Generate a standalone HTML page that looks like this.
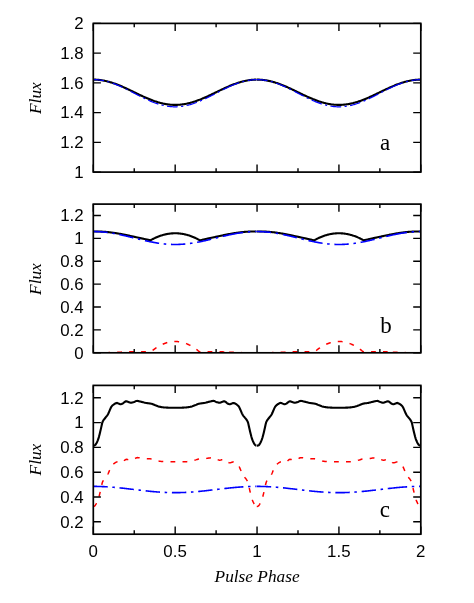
<!DOCTYPE html>
<html><head><meta charset="utf-8"><title>Pulse profiles</title>
<style>
html,body{margin:0;padding:0;background:#fff;}
svg{display:block}
svg{will-change:transform}
.s{font-family:"Liberation Sans",sans-serif;font-size:16px;fill:#000}
.i{font-family:"Liberation Serif",serif;font-style:italic;font-size:17.3px;fill:#000}
.r{font-family:"Liberation Serif",serif;font-size:23px;fill:#000}
</style></head><body>
<svg width="474" height="603" viewBox="0 0 474 603">
<rect width="474" height="603" fill="#fff"/>
<clipPath id="clipa"><rect x="93.3" y="23.4" width="327.5" height="148.7"/></clipPath>
<g clip-path="url(#clipa)" fill="none" stroke-linejoin="round">
<path d="M93.30,79.61 L93.93,79.61 L94.55,79.62 L95.18,79.64 L95.81,79.67 L96.44,79.70 L97.06,79.74 L97.69,79.79 L98.32,79.84 L98.94,79.90 L99.57,79.97 L100.20,80.05 L100.83,80.13 L101.45,80.22 L102.08,80.32 L102.71,80.42 L103.33,80.53 L103.96,80.65 L104.59,80.78 L105.21,80.91 L105.84,81.04 L106.47,81.19 L107.10,81.34 L107.72,81.50 L108.35,81.66 L108.98,81.83 L109.60,82.00 L110.23,82.18 L110.86,82.37 L111.49,82.56 L112.11,82.76 L112.74,82.96 L113.37,83.17 L113.99,83.39 L114.62,83.61 L115.25,83.83 L115.88,84.06 L116.50,84.30 L117.13,84.53 L117.76,84.78 L118.38,85.02 L119.01,85.28 L119.64,85.53 L120.27,85.79 L120.89,86.06 L121.52,86.32 L122.15,86.59 L122.77,86.87 L123.40,87.14 L124.03,87.42 L124.65,87.70 L125.28,87.99 L125.91,88.28 L126.54,88.57 L127.16,88.86 L127.79,89.15 L128.42,89.45 L129.04,89.75 L129.67,90.05 L130.30,90.35 L130.93,90.65 L131.55,90.95 L132.18,91.25 L132.81,91.55 L133.43,91.86 L134.06,92.16 L134.69,92.47 L135.32,92.77 L135.94,93.07 L136.57,93.38 L137.20,93.68 L137.82,93.98 L138.45,94.28 L139.08,94.58 L139.71,94.88 L140.33,95.18 L140.96,95.47 L141.59,95.77 L142.21,96.06 L142.84,96.35 L143.47,96.63 L144.10,96.92 L144.72,97.20 L145.35,97.48 L145.98,97.75 L146.60,98.02 L147.23,98.29 L147.86,98.56 L148.48,98.82 L149.11,99.08 L149.74,99.33 L150.37,99.58 L150.99,99.83 L151.62,100.07 L152.25,100.30 L152.87,100.54 L153.50,100.76 L154.13,100.99 L154.76,101.20 L155.38,101.41 L156.01,101.62 L156.64,101.82 L157.26,102.02 L157.89,102.21 L158.52,102.39 L159.15,102.57 L159.77,102.74 L160.40,102.91 L161.03,103.07 L161.65,103.22 L162.28,103.37 L162.91,103.51 L163.54,103.65 L164.16,103.78 L164.79,103.90 L165.42,104.01 L166.04,104.12 L166.67,104.22 L167.30,104.31 L167.92,104.40 L168.55,104.48 L169.18,104.55 L169.81,104.62 L170.43,104.68 L171.06,104.73 L171.69,104.77 L172.31,104.81 L172.94,104.84 L173.57,104.86 L174.20,104.88 L174.82,104.89 L175.45,104.89 L176.08,104.88 L176.70,104.87 L177.33,104.84 L177.96,104.82 L178.59,104.78 L179.21,104.74 L179.84,104.69 L180.47,104.63 L181.09,104.56 L181.72,104.49 L182.35,104.41 L182.98,104.33 L183.60,104.23 L184.23,104.13 L184.86,104.03 L185.48,103.91 L186.11,103.79 L186.74,103.66 L187.36,103.53 L187.99,103.39 L188.62,103.24 L189.25,103.09 L189.87,102.93 L190.50,102.76 L191.13,102.59 L191.75,102.42 L192.38,102.23 L193.01,102.04 L193.64,101.85 L194.26,101.65 L194.89,101.44 L195.52,101.23 L196.14,101.01 L196.77,100.79 L197.40,100.56 L198.03,100.33 L198.65,100.10 L199.28,99.86 L199.91,99.61 L200.53,99.36 L201.16,99.11 L201.79,98.85 L202.42,98.59 L203.04,98.32 L203.67,98.06 L204.30,97.78 L204.92,97.51 L205.55,97.23 L206.18,96.95 L206.81,96.67 L207.43,96.38 L208.06,96.09 L208.69,95.80 L209.31,95.51 L209.94,95.21 L210.57,94.92 L211.19,94.62 L211.82,94.32 L212.45,94.02 L213.08,93.72 L213.70,93.41 L214.33,93.11 L214.96,92.81 L215.58,92.50 L216.21,92.20 L216.84,91.90 L217.47,91.59 L218.09,91.29 L218.72,90.99 L219.35,90.68 L219.97,90.38 L220.60,90.08 L221.23,89.78 L221.86,89.49 L222.48,89.19 L223.11,88.90 L223.74,88.60 L224.36,88.31 L224.99,88.03 L225.62,87.74 L226.25,87.46 L226.87,87.18 L227.50,86.90 L228.13,86.63 L228.75,86.35 L229.38,86.09 L230.01,85.82 L230.63,85.56 L231.26,85.31 L231.89,85.06 L232.52,84.81 L233.14,84.56 L233.77,84.32 L234.40,84.09 L235.02,83.86 L235.65,83.64 L236.28,83.41 L236.91,83.20 L237.53,82.99 L238.16,82.79 L238.79,82.59 L239.41,82.39 L240.04,82.21 L240.67,82.02 L241.30,81.85 L241.92,81.68 L242.55,81.52 L243.18,81.36 L243.80,81.21 L244.43,81.06 L245.06,80.92 L245.69,80.79 L246.31,80.67 L246.94,80.55 L247.57,80.44 L248.19,80.33 L248.82,80.23 L249.45,80.14 L250.07,80.06 L250.70,79.98 L251.33,79.91 L251.96,79.85 L252.58,79.79 L253.21,79.75 L253.84,79.70 L254.46,79.67 L255.09,79.64 L255.72,79.63 L256.35,79.61" stroke="#000" stroke-width="2.1"/>
<path d="M256.76,79.61 L257.39,79.61 L258.02,79.62 L258.65,79.63 L259.28,79.65 L259.91,79.68 L260.54,79.72 L261.17,79.77 L261.80,79.82 L262.43,79.88 L263.06,79.94 L263.70,80.02 L264.33,80.10 L264.96,80.19 L265.59,80.28 L266.22,80.38 L266.85,80.49 L267.48,80.61 L268.11,80.73 L268.74,80.86 L269.37,81.00 L270.01,81.14 L270.64,81.29 L271.27,81.44 L271.90,81.60 L272.53,81.77 L273.16,81.95 L273.79,82.13 L274.42,82.31 L275.05,82.51 L275.68,82.70 L276.31,82.91 L276.95,83.12 L277.58,83.33 L278.21,83.55 L278.84,83.77 L279.47,84.00 L280.10,84.24 L280.73,84.48 L281.36,84.72 L281.99,84.97 L282.62,85.22 L283.25,85.48 L283.89,85.74 L284.52,86.00 L285.15,86.27 L285.78,86.54 L286.41,86.82 L287.04,87.09 L287.67,87.37 L288.30,87.66 L288.93,87.94 L289.56,88.23 L290.20,88.52 L290.83,88.82 L291.46,89.11 L292.09,89.41 L292.72,89.71 L293.35,90.01 L293.98,90.31 L294.61,90.62 L295.24,90.92 L295.87,91.22 L296.50,91.53 L297.14,91.83 L297.77,92.14 L298.40,92.45 L299.03,92.75 L299.66,93.06 L300.29,93.36 L300.92,93.67 L301.55,93.97 L302.18,94.27 L302.81,94.58 L303.44,94.88 L304.08,95.17 L304.71,95.47 L305.34,95.77 L305.97,96.06 L306.60,96.35 L307.23,96.64 L307.86,96.92 L308.49,97.21 L309.12,97.49 L309.75,97.76 L310.39,98.04 L311.02,98.31 L311.65,98.57 L312.28,98.84 L312.91,99.10 L313.54,99.35 L314.17,99.60 L314.80,99.85 L315.43,100.09 L316.06,100.33 L316.69,100.56 L317.33,100.79 L317.96,101.01 L318.59,101.23 L319.22,101.44 L319.85,101.65 L320.48,101.85 L321.11,102.05 L321.74,102.24 L322.37,102.42 L323.00,102.60 L323.64,102.77 L324.27,102.94 L324.90,103.10 L325.53,103.25 L326.16,103.40 L326.79,103.54 L327.42,103.68 L328.05,103.80 L328.68,103.92 L329.31,104.04 L329.94,104.14 L330.58,104.24 L331.21,104.34 L331.84,104.42 L332.47,104.50 L333.10,104.57 L333.73,104.64 L334.36,104.69 L334.99,104.74 L335.62,104.79 L336.25,104.82 L336.88,104.85 L337.52,104.87 L338.15,104.88 L338.78,104.89 L339.41,104.89 L340.04,104.88 L340.67,104.86 L341.30,104.84 L341.93,104.80 L342.56,104.76 L343.19,104.72 L343.83,104.66 L344.46,104.60 L345.09,104.54 L345.72,104.46 L346.35,104.38 L346.98,104.29 L347.61,104.19 L348.24,104.09 L348.87,103.98 L349.50,103.86 L350.13,103.74 L350.77,103.61 L351.40,103.47 L352.03,103.32 L352.66,103.17 L353.29,103.02 L353.92,102.85 L354.55,102.68 L355.18,102.51 L355.81,102.33 L356.44,102.14 L357.07,101.94 L357.71,101.75 L358.34,101.54 L358.97,101.33 L359.60,101.12 L360.23,100.89 L360.86,100.67 L361.49,100.44 L362.12,100.20 L362.75,99.96 L363.38,99.72 L364.02,99.47 L364.65,99.22 L365.28,98.96 L365.91,98.70 L366.54,98.43 L367.17,98.16 L367.80,97.89 L368.43,97.62 L369.06,97.34 L369.69,97.06 L370.32,96.77 L370.96,96.48 L371.59,96.19 L372.22,95.90 L372.85,95.61 L373.48,95.31 L374.11,95.02 L374.74,94.72 L375.37,94.42 L376.00,94.11 L376.63,93.81 L377.27,93.51 L377.90,93.20 L378.53,92.90 L379.16,92.59 L379.79,92.28 L380.42,91.98 L381.05,91.67 L381.68,91.37 L382.31,91.06 L382.94,90.76 L383.57,90.45 L384.21,90.15 L384.84,89.85 L385.47,89.55 L386.10,89.25 L386.73,88.96 L387.36,88.66 L387.99,88.37 L388.62,88.08 L389.25,87.79 L389.88,87.51 L390.51,87.22 L391.15,86.95 L391.78,86.67 L392.41,86.40 L393.04,86.13 L393.67,85.86 L394.30,85.60 L394.93,85.34 L395.56,85.09 L396.19,84.84 L396.82,84.59 L397.46,84.35 L398.09,84.11 L398.72,83.88 L399.35,83.65 L399.98,83.43 L400.61,83.22 L401.24,83.00 L401.87,82.80 L402.50,82.60 L403.13,82.40 L403.76,82.21 L404.40,82.03 L405.03,81.85 L405.66,81.68 L406.29,81.52 L406.92,81.36 L407.55,81.21 L408.18,81.06 L408.81,80.92 L409.44,80.79 L410.07,80.66 L410.70,80.55 L411.34,80.43 L411.97,80.33 L412.60,80.23 L413.23,80.14 L413.86,80.05 L414.49,79.98 L415.12,79.91 L415.75,79.84 L416.38,79.79 L417.01,79.74 L417.65,79.70 L418.28,79.67 L418.91,79.64 L419.54,79.62 L420.17,79.61 L420.80,79.61" stroke="#000" stroke-width="2.1"/>

<path d="M93.30,79.61 L93.98,79.61 L94.66,79.63 L95.34,79.65 L96.01,79.68 L96.69,79.72 L97.37,79.77 L98.05,79.83 L98.73,79.90 L99.41,79.98 L100.09,80.07 L100.77,80.16 L101.44,80.27 L102.12,80.38 L102.80,80.50 L103.48,80.63 L104.16,80.77 L104.84,80.92 L105.52,81.08 L106.20,81.24 L106.87,81.41 L107.55,81.59 L108.23,81.78 L108.91,81.98 L109.59,82.18 L110.27,82.39 L110.95,82.61 L111.63,82.84 L112.30,83.07 L112.98,83.31 L113.66,83.55 L114.34,83.81 L115.02,84.07 L115.70,84.33 L116.38,84.60 L117.06,84.88 L117.73,85.16 L118.41,85.45 L119.09,85.75 L119.77,86.04 L120.45,86.35 L121.13,86.66 L121.81,86.97 L122.49,87.29 L123.16,87.61 L123.84,87.93 L124.52,88.26 L125.20,88.59 L125.88,88.93 L126.56,89.26 L127.24,89.60 L127.92,89.95 L128.59,90.29 L129.27,90.64 L129.95,90.99 L130.63,91.34 L131.31,91.69 L131.99,92.04 L132.67,92.40 L133.35,92.75 L134.02,93.10 L134.70,93.46 L135.38,93.81 L136.06,94.17 L136.74,94.52 L137.42,94.87 L138.10,95.22 L138.78,95.57 L139.45,95.92 L140.13,96.27 L140.81,96.61 L141.49,96.95 L142.17,97.29 L142.85,97.63 L143.53,97.96 L144.21,98.29 L144.88,98.62 L145.56,98.94 L146.24,99.26 L146.92,99.58 L147.60,99.89 L148.28,100.20 L148.96,100.50 L149.64,100.79 L150.31,101.09 L150.99,101.37 L151.67,101.65 L152.35,101.93 L153.03,102.20 L153.71,102.46 L154.39,102.72 L155.07,102.97 L155.74,103.21 L156.42,103.45 L157.10,103.68 L157.78,103.90 L158.46,104.12 L159.14,104.33 L159.82,104.53 L160.50,104.72 L161.17,104.90 L161.85,105.08 L162.53,105.25 L163.21,105.41 L163.89,105.56 L164.57,105.71 L165.25,105.85 L165.93,105.97 L166.60,106.09 L167.28,106.20 L167.96,106.30 L168.64,106.40 L169.32,106.48 L170.00,106.55 L170.68,106.62 L171.36,106.67 L172.03,106.72 L172.71,106.76 L173.39,106.79 L174.07,106.81 L174.75,106.82 L175.43,106.82 L176.11,106.81 L176.79,106.79 L177.46,106.77 L178.14,106.73 L178.82,106.69 L179.50,106.63 L180.18,106.57 L180.86,106.50 L181.54,106.42 L182.22,106.33 L182.89,106.23 L183.57,106.12 L184.25,106.00 L184.93,105.88 L185.61,105.74 L186.29,105.60 L186.97,105.45 L187.65,105.29 L188.32,105.13 L189.00,104.95 L189.68,104.77 L190.36,104.58 L191.04,104.38 L191.72,104.17 L192.40,103.96 L193.08,103.74 L193.75,103.51 L194.43,103.27 L195.11,103.03 L195.79,102.78 L196.47,102.53 L197.15,102.26 L197.83,102.00 L198.51,101.72 L199.18,101.44 L199.86,101.16 L200.54,100.87 L201.22,100.57 L201.90,100.27 L202.58,99.97 L203.26,99.66 L203.94,99.34 L204.61,99.02 L205.29,98.70 L205.97,98.38 L206.65,98.05 L207.33,97.71 L208.01,97.38 L208.69,97.04 L209.37,96.70 L210.04,96.35 L210.72,96.01 L211.40,95.66 L212.08,95.31 L212.76,94.96 L213.44,94.61 L214.12,94.26 L214.80,93.90 L215.47,93.55 L216.15,93.19 L216.83,92.84 L217.51,92.49 L218.19,92.13 L218.87,91.78 L219.55,91.43 L220.23,91.08 L220.90,90.73 L221.58,90.38 L222.26,90.03 L222.94,89.69 L223.62,89.35 L224.30,89.01 L224.98,88.68 L225.66,88.34 L226.33,88.01 L227.01,87.69 L227.69,87.37 L228.37,87.05 L229.05,86.73" stroke="#0000ff" stroke-width="1.2" stroke-dasharray="10.8 3.35 2.2 3.4"/>
<path d="M229.05,86.73 L229.50,86.53 L229.96,86.32 L230.41,86.12 L230.87,85.92 L231.32,85.72 L231.78,85.52 L232.23,85.32 L232.69,85.13 L233.14,84.94 L233.60,84.76 L234.05,84.57 L234.51,84.39 L234.96,84.21 L235.42,84.03 L235.87,83.86 L236.33,83.69 L236.78,83.52 L237.24,83.35 L237.69,83.19 L238.15,83.03 L238.60,82.88 L239.06,82.72 L239.51,82.57 L239.97,82.43 L240.42,82.29 L240.88,82.15 L241.33,82.01 L241.79,81.88 L242.24,81.75 L242.70,81.62 L243.15,81.50 L243.61,81.38 L244.06,81.26 L244.52,81.15 L244.97,81.04 L245.43,80.94 L245.88,80.84 L246.34,80.74 L246.79,80.65 L247.25,80.56 L247.70,80.47 L248.16,80.39 L248.61,80.32 L249.07,80.24 L249.52,80.17 L249.98,80.11 L250.43,80.04 L250.89,79.99 L251.34,79.93 L251.80,79.88 L252.25,79.84 L252.71,79.80 L253.16,79.76 L253.62,79.73 L254.07,79.70 L254.53,79.67 L254.98,79.65 L255.44,79.63 L255.89,79.62 L256.35,79.61" stroke="#0000ff" stroke-width="1.2" stroke-dasharray="10.8 3.35 2.2 3.4"/>
<path d="M256.76,79.61 L257.44,79.61 L258.12,79.62 L258.80,79.64 L259.48,79.67 L260.16,79.71 L260.84,79.75 L261.52,79.81 L262.20,79.87 L262.88,79.95 L263.56,80.03 L264.24,80.12 L264.92,80.22 L265.60,80.33 L266.28,80.45 L266.96,80.58 L267.64,80.72 L268.32,80.86 L269.00,81.01 L269.68,81.18 L270.36,81.34 L271.04,81.52 L271.72,81.71 L272.40,81.90 L273.08,82.10 L273.76,82.31 L274.44,82.53 L275.12,82.75 L275.80,82.98 L276.48,83.22 L277.16,83.46 L277.84,83.71 L278.52,83.97 L279.20,84.23 L279.88,84.50 L280.56,84.78 L281.24,85.06 L281.92,85.35 L282.60,85.64 L283.28,85.94 L283.96,86.24 L284.64,86.55 L285.32,86.86 L286.00,87.18 L286.68,87.50 L287.37,87.82 L288.05,88.15 L288.73,88.48 L289.41,88.81 L290.09,89.15 L290.77,89.49 L291.45,89.84 L292.13,90.18 L292.81,90.53 L293.49,90.88 L294.17,91.23 L294.85,91.58 L295.53,91.93 L296.21,92.29 L296.89,92.64 L297.57,93.00 L298.25,93.35 L298.93,93.71 L299.61,94.06 L300.29,94.41 L300.97,94.77 L301.65,95.12 L302.33,95.47 L303.01,95.82 L303.69,96.17 L304.37,96.51 L305.05,96.86 L305.73,97.20 L306.41,97.54 L307.09,97.87 L307.77,98.20 L308.45,98.53 L309.13,98.86 L309.81,99.18 L310.49,99.50 L311.17,99.81 L311.85,100.12 L312.53,100.42 L313.21,100.72 L313.89,101.01 L314.57,101.30 L315.25,101.58 L315.93,101.86 L316.61,102.13 L317.29,102.40 L317.97,102.66 L318.66,102.91 L319.34,103.15 L320.02,103.39 L320.70,103.63 L321.38,103.85 L322.06,104.07 L322.74,104.28 L323.42,104.48 L324.10,104.68 L324.78,104.86 L325.46,105.04 L326.14,105.22 L326.82,105.38 L327.50,105.53 L328.18,105.68 L328.86,105.82 L329.54,105.95 L330.22,106.07 L330.90,106.18 L331.58,106.28 L332.26,106.38 L332.94,106.46 L333.62,106.54 L334.30,106.61 L334.98,106.67 L335.66,106.71 L336.34,106.75 L337.02,106.78 L337.70,106.81 L338.38,106.82 L339.06,106.82 L339.74,106.81 L340.42,106.80 L341.10,106.77 L341.78,106.74 L342.46,106.70 L343.14,106.64 L343.82,106.58 L344.50,106.51 L345.18,106.43 L345.86,106.34 L346.54,106.24 L347.22,106.14 L347.90,106.02 L348.58,105.90 L349.26,105.76 L349.95,105.62 L350.63,105.47 L351.31,105.31 L351.99,105.15 L352.67,104.97 L353.35,104.79 L354.03,104.60 L354.71,104.40 L355.39,104.20 L356.07,103.98 L356.75,103.76 L357.43,103.53 L358.11,103.30 L358.79,103.06 L359.47,102.81 L360.15,102.55 L360.83,102.29 L361.51,102.02 L362.19,101.75 L362.87,101.47 L363.55,101.19 L364.23,100.90 L364.91,100.60 L365.59,100.30 L366.27,99.99 L366.95,99.68 L367.63,99.37 L368.31,99.05 L368.99,98.73 L369.67,98.40 L370.35,98.07 L371.03,97.74 L371.71,97.40 L372.39,97.06 L373.07,96.72 L373.75,96.38 L374.43,96.03 L375.11,95.68 L375.79,95.33 L376.47,94.98 L377.15,94.63 L377.83,94.27 L378.51,93.92 L379.19,93.56 L379.87,93.21 L380.55,92.85 L381.24,92.50 L381.92,92.14 L382.60,91.79 L383.28,91.44 L383.96,91.09 L384.64,90.74 L385.32,90.39 L386.00,90.04 L386.68,89.70 L387.36,89.36 L388.04,89.02 L388.72,88.68 L389.40,88.35 L390.08,88.02 L390.76,87.69 L391.44,87.37 L392.12,87.05 L392.80,86.73" stroke="#0000ff" stroke-width="1.2" stroke-dasharray="10.8 3.35 2.2 3.4"/>
<path d="M392.80,86.73 L393.27,86.52 L393.73,86.31 L394.20,86.10 L394.67,85.90 L395.13,85.69 L395.60,85.49 L396.07,85.29 L396.53,85.09 L397.00,84.90 L397.47,84.71 L397.93,84.52 L398.40,84.33 L398.87,84.15 L399.33,83.97 L399.80,83.79 L400.27,83.62 L400.73,83.45 L401.20,83.28 L401.67,83.11 L402.13,82.95 L402.60,82.79 L403.07,82.64 L403.53,82.49 L404.00,82.34 L404.47,82.19 L404.93,82.05 L405.40,81.92 L405.87,81.78 L406.33,81.65 L406.80,81.53 L407.27,81.40 L407.73,81.28 L408.20,81.17 L408.67,81.06 L409.13,80.95 L409.60,80.85 L410.07,80.75 L410.53,80.65 L411.00,80.56 L411.47,80.47 L411.93,80.39 L412.40,80.31 L412.87,80.23 L413.33,80.16 L413.80,80.10 L414.27,80.03 L414.73,79.98 L415.20,79.92 L415.67,79.87 L416.13,79.83 L416.60,79.78 L417.07,79.75 L417.53,79.72 L418.00,79.69 L418.47,79.66 L418.93,79.64 L419.40,79.63 L419.87,79.62 L420.33,79.61 L420.80,79.61" stroke="#0000ff" stroke-width="1.2" stroke-dasharray="10.8 3.35 2.2 3.4"/>

</g>
<path d="M93.30,172.1v-7.6M93.30,23.4v7.6M134.24,172.1v-3.9M134.24,23.4v3.9M175.18,172.1v-7.6M175.18,23.4v7.6M216.11,172.1v-3.9M216.11,23.4v3.9M257.05,172.1v-7.6M257.05,23.4v7.6M297.99,172.1v-3.9M297.99,23.4v3.9M338.93,172.1v-7.6M338.93,23.4v7.6M379.86,172.1v-3.9M379.86,23.4v3.9M420.80,172.1v-7.6M420.80,23.4v7.6M93.3,172.10h7.6M420.8,172.10h-7.6M93.3,142.36h7.6M420.8,142.36h-7.6M93.3,112.62h7.6M420.8,112.62h-7.6M93.3,82.88h7.6M420.8,82.88h-7.6M93.3,53.14h7.6M420.8,53.14h-7.6M93.3,23.40h7.6M420.8,23.40h-7.6" stroke="#000" stroke-width="1.4" fill="none"/>
<rect x="93.3" y="23.4" width="327.5" height="148.7" fill="none" stroke="#000" stroke-width="1.7"/>
<text transform="translate(83.6,177.90) scale(1.055,1)" text-anchor="end" class="s">1</text>
<text transform="translate(83.6,148.16) scale(1.055,1)" text-anchor="end" class="s">1.2</text>
<text transform="translate(83.6,118.42) scale(1.055,1)" text-anchor="end" class="s">1.4</text>
<text transform="translate(83.6,88.68) scale(1.055,1)" text-anchor="end" class="s">1.6</text>
<text transform="translate(83.6,58.94) scale(1.055,1)" text-anchor="end" class="s">1.8</text>
<text transform="translate(83.6,29.20) scale(1.055,1)" text-anchor="end" class="s">2</text>
<text transform="translate(40.6,98.15) rotate(-90)" text-anchor="middle" class="i">Flux</text>
<text x="385.20" y="149.90" text-anchor="middle" class="r">a</text>
<clipPath id="clipb"><rect x="93.3" y="204.1" width="327.5" height="148.70000000000002"/></clipPath>
<g clip-path="url(#clipb)" fill="none" stroke-linejoin="round">
<path d="M93.30,231.55 L93.93,231.54 L94.55,231.52 L95.18,231.51 L95.81,231.51 L96.44,231.50 L97.06,231.51 L97.69,231.51 L98.32,231.52 L98.94,231.53 L99.57,231.55 L100.20,231.57 L100.83,231.59 L101.45,231.62 L102.08,231.65 L102.71,231.68 L103.33,231.72 L103.96,231.76 L104.59,231.81 L105.21,231.86 L105.84,231.91 L106.47,231.96 L107.10,232.02 L107.72,232.08 L108.35,232.14 L108.98,232.21 L109.60,232.28 L110.23,232.36 L110.86,232.43 L111.49,232.51 L112.11,232.59 L112.74,232.68 L113.37,232.77 L113.99,232.86 L114.62,232.95 L115.25,233.05 L115.88,233.15 L116.50,233.25 L117.13,233.35 L117.76,233.45 L118.38,233.56 L119.01,233.67 L119.64,233.78 L120.27,233.90 L120.89,234.01 L121.52,234.13 L122.15,234.25 L122.77,234.37 L123.40,234.49 L124.03,234.62 L124.65,234.74 L125.28,234.87 L125.91,235.00 L126.54,235.13 L127.16,235.26 L127.79,235.39 L128.42,235.52 L129.04,235.65 L129.67,235.79 L130.30,235.92 L130.93,236.06 L131.55,236.19 L132.18,236.33 L132.81,236.46 L133.43,236.60 L134.06,236.74 L134.69,236.87 L135.32,237.01 L135.94,237.15 L136.57,237.28 L137.20,237.42 L137.82,237.55 L138.45,237.69 L139.08,237.82 L139.71,237.96 L140.33,238.09 L140.96,238.22 L141.59,238.35 L142.21,238.48 L142.84,238.62 L143.47,238.77 L144.10,238.91 L144.72,239.06 L145.35,239.20 L145.98,239.34 L146.60,239.48 L147.23,239.62 L147.86,239.75 L148.48,239.89 L149.11,240.02 L149.74,240.15 L150.37,240.28 L150.99,240.03 L151.62,239.68 L152.25,239.35 L152.87,239.02 L153.50,238.70 L154.13,238.39 L154.76,238.09 L155.38,237.80 L156.01,237.52 L156.64,237.24 L157.26,236.98 L157.89,236.72 L158.52,236.48 L159.15,236.24 L159.77,236.01 L160.40,235.79 L161.03,235.58 L161.65,235.38 L162.28,235.19 L162.91,235.01 L163.54,234.83 L164.16,234.67 L164.79,234.52 L165.42,234.37 L166.04,234.23 L166.67,234.10 L167.30,233.99 L167.92,233.88 L168.55,233.78 L169.18,233.68 L169.81,233.60 L170.43,233.53 L171.06,233.46 L171.69,233.41 L172.31,233.36 L172.94,233.33 L173.57,233.30 L174.20,233.28 L174.82,233.27 L175.45,233.27 L176.08,233.28 L176.70,233.30 L177.33,233.32 L177.96,233.36 L178.59,233.40 L179.21,233.46 L179.84,233.52 L180.47,233.59 L181.09,233.67 L181.72,233.76 L182.35,233.86 L182.98,233.97 L183.60,234.09 L184.23,234.22 L184.86,234.35 L185.48,234.50 L186.11,234.65 L186.74,234.81 L187.36,234.99 L187.99,235.17 L188.62,235.36 L189.25,235.56 L189.87,235.77 L190.50,235.98 L191.13,236.21 L191.75,236.45 L192.38,236.69 L193.01,236.95 L193.64,237.21 L194.26,237.48 L194.89,237.76 L195.52,238.05 L196.14,238.35 L196.77,238.66 L197.40,238.98 L198.03,239.31 L198.65,239.64 L199.28,239.99 L199.91,240.29 L200.53,240.17 L201.16,240.04 L201.79,239.90 L202.42,239.77 L203.04,239.63 L203.67,239.50 L204.30,239.36 L204.92,239.22 L205.55,239.08 L206.18,238.93 L206.81,238.79 L207.43,238.64 L208.06,238.50 L208.69,238.37 L209.31,238.24 L209.94,238.11 L210.57,237.97 L211.19,237.84 L211.82,237.71 L212.45,237.57 L213.08,237.44 L213.70,237.30 L214.33,237.16 L214.96,237.03 L215.58,236.89 L216.21,236.75 L216.84,236.62 L217.47,236.48 L218.09,236.35 L218.72,236.21 L219.35,236.07 L219.97,235.94 L220.60,235.80 L221.23,235.67 L221.86,235.54 L222.48,235.40 L223.11,235.27 L223.74,235.14 L224.36,235.01 L224.99,234.89 L225.62,234.76 L226.25,234.63 L226.87,234.51 L227.50,234.39 L228.13,234.26 L228.75,234.15 L229.38,234.03 L230.01,233.91 L230.63,233.80 L231.26,233.69 L231.89,233.58 L232.52,233.47 L233.14,233.36 L233.77,233.26 L234.40,233.16 L235.02,233.06 L235.65,232.96 L236.28,232.87 L236.91,232.78 L237.53,232.69 L238.16,232.61 L238.79,232.52 L239.41,232.44 L240.04,232.37 L240.67,232.29 L241.30,232.22 L241.92,232.15 L242.55,232.09 L243.18,232.03 L243.80,231.97 L244.43,231.91 L245.06,231.86 L245.69,231.81 L246.31,231.77 L246.94,231.73 L247.57,231.69 L248.19,231.65 L248.82,231.62 L249.45,231.60 L250.07,231.57 L250.70,231.55 L251.33,231.53 L251.96,231.52 L252.58,231.51 L253.21,231.51 L253.84,231.50 L254.46,231.51 L255.09,231.51 L255.72,231.52 L256.35,231.53" stroke="#000" stroke-width="2.1"/>
<path d="M256.76,231.54 L257.39,231.54 L258.02,231.53 L258.65,231.52 L259.28,231.51 L259.91,231.50 L260.54,231.50 L261.17,231.51 L261.80,231.52 L262.43,231.53 L263.06,231.54 L263.70,231.56 L264.33,231.58 L264.96,231.61 L265.59,231.64 L266.22,231.67 L266.85,231.71 L267.48,231.75 L268.11,231.79 L268.74,231.84 L269.37,231.89 L270.01,231.94 L270.64,232.00 L271.27,232.06 L271.90,232.12 L272.53,232.19 L273.16,232.26 L273.79,232.33 L274.42,232.41 L275.05,232.49 L275.68,232.57 L276.31,232.66 L276.95,232.74 L277.58,232.83 L278.21,232.93 L278.84,233.02 L279.47,233.12 L280.10,233.22 L280.73,233.32 L281.36,233.43 L281.99,233.54 L282.62,233.65 L283.25,233.76 L283.89,233.87 L284.52,233.99 L285.15,234.11 L285.78,234.23 L286.41,234.35 L287.04,234.47 L287.67,234.60 L288.30,234.72 L288.93,234.85 L289.56,234.98 L290.20,235.11 L290.83,235.24 L291.46,235.37 L292.09,235.50 L292.72,235.64 L293.35,235.77 L293.98,235.91 L294.61,236.04 L295.24,236.18 L295.87,236.32 L296.50,236.45 L297.14,236.59 L297.77,236.73 L298.40,236.87 L299.03,237.00 L299.66,237.14 L300.29,237.28 L300.92,237.41 L301.55,237.55 L302.18,237.68 L302.81,237.82 L303.44,237.95 L304.08,238.09 L304.71,238.22 L305.34,238.35 L305.97,238.48 L306.60,238.63 L307.23,238.77 L307.86,238.92 L308.49,239.06 L309.12,239.21 L309.75,239.35 L310.39,239.49 L311.02,239.63 L311.65,239.76 L312.28,239.90 L312.91,240.03 L313.54,240.16 L314.17,240.29 L314.80,240.00 L315.43,239.65 L316.06,239.31 L316.69,238.98 L317.33,238.66 L317.96,238.35 L318.59,238.05 L319.22,237.76 L319.85,237.48 L320.48,237.20 L321.11,236.94 L321.74,236.68 L322.37,236.44 L323.00,236.20 L323.64,235.97 L324.27,235.75 L324.90,235.54 L325.53,235.34 L326.16,235.15 L326.79,234.97 L327.42,234.80 L328.05,234.64 L328.68,234.48 L329.31,234.34 L329.94,234.20 L330.58,234.07 L331.21,233.96 L331.84,233.85 L332.47,233.75 L333.10,233.66 L333.73,233.58 L334.36,233.51 L334.99,233.45 L335.62,233.39 L336.25,233.35 L336.88,233.32 L337.52,233.29 L338.15,233.28 L338.78,233.27 L339.41,233.27 L340.04,233.28 L340.67,233.30 L341.30,233.33 L341.93,233.37 L342.56,233.42 L343.19,233.48 L343.83,233.55 L344.46,233.62 L345.09,233.71 L345.72,233.80 L346.35,233.91 L346.98,234.02 L347.61,234.14 L348.24,234.27 L348.87,234.41 L349.50,234.56 L350.13,234.72 L350.77,234.89 L351.40,235.07 L352.03,235.25 L352.66,235.45 L353.29,235.65 L353.92,235.87 L354.55,236.09 L355.18,236.32 L355.81,236.57 L356.44,236.82 L357.07,237.08 L357.71,237.35 L358.34,237.63 L358.97,237.91 L359.60,238.21 L360.23,238.52 L360.86,238.83 L361.49,239.16 L362.12,239.49 L362.75,239.83 L363.38,240.19 L364.02,240.22 L364.65,240.09 L365.28,239.96 L365.91,239.83 L366.54,239.69 L367.17,239.55 L367.80,239.41 L368.43,239.27 L369.06,239.13 L369.69,238.99 L370.32,238.84 L370.96,238.69 L371.59,238.55 L372.22,238.41 L372.85,238.28 L373.48,238.15 L374.11,238.02 L374.74,237.88 L375.37,237.75 L376.00,237.61 L376.63,237.48 L377.27,237.34 L377.90,237.20 L378.53,237.07 L379.16,236.93 L379.79,236.79 L380.42,236.65 L381.05,236.52 L381.68,236.38 L382.31,236.24 L382.94,236.11 L383.57,235.97 L384.21,235.84 L384.84,235.70 L385.47,235.57 L386.10,235.43 L386.73,235.30 L387.36,235.17 L387.99,235.04 L388.62,234.91 L389.25,234.78 L389.88,234.65 L390.51,234.53 L391.15,234.41 L391.78,234.28 L392.41,234.16 L393.04,234.04 L393.67,233.93 L394.30,233.81 L394.93,233.70 L395.56,233.59 L396.19,233.48 L396.82,233.37 L397.46,233.27 L398.09,233.17 L398.72,233.07 L399.35,232.97 L399.98,232.88 L400.61,232.79 L401.24,232.70 L401.87,232.61 L402.50,232.53 L403.13,232.45 L403.76,232.37 L404.40,232.29 L405.03,232.22 L405.66,232.15 L406.29,232.09 L406.92,232.03 L407.55,231.97 L408.18,231.91 L408.81,231.86 L409.44,231.81 L410.07,231.77 L410.70,231.73 L411.34,231.69 L411.97,231.65 L412.60,231.62 L413.23,231.59 L413.86,231.57 L414.49,231.55 L415.12,231.53 L415.75,231.52 L416.38,231.51 L417.01,231.51 L417.65,231.50 L418.28,231.51 L418.91,231.51 L419.54,231.52 L420.17,231.54 L420.80,231.55" stroke="#000" stroke-width="2.1"/>

<path d="M93.30,352.77 L93.98,352.76 L94.66,352.76 L95.34,352.75 L96.01,352.75 L96.69,352.74 L97.37,352.74 L98.05,352.74 L98.73,352.73 L99.41,352.73 L100.09,352.72 L100.77,352.72 L101.44,352.72 L102.12,352.71 L102.80,352.71 L103.48,352.70 L104.16,352.70 L104.84,352.70 L105.52,352.69 L106.20,352.69 L106.87,352.67 L107.55,352.65 L108.23,352.63 L108.91,352.62 L109.59,352.60 L110.27,352.58 L110.95,352.56 L111.63,352.54 L112.30,352.52 L112.98,352.50 L113.66,352.48 L114.34,352.46 L115.02,352.44 L115.70,352.40 L116.38,352.37 L117.06,352.34 L117.73,352.30 L118.41,352.27 L119.09,352.24 L119.77,352.20 L120.45,352.17 L121.13,352.14 L121.81,352.11 L122.49,352.08 L123.16,352.05 L123.84,352.02 L124.52,351.99 L125.20,351.95 L125.88,351.92 L126.56,351.89 L127.24,351.86 L127.92,351.83 L128.59,351.80 L129.27,351.77 L129.95,351.77 L130.63,351.76 L131.31,351.75 L131.99,351.75 L132.67,351.74 L133.35,351.74 L134.02,351.73 L134.70,351.73 L135.38,351.72 L136.06,351.72 L136.74,351.71 L137.42,351.71 L138.10,351.70 L138.78,351.70 L139.45,351.69 L140.13,351.68 L140.81,351.68 L141.49,351.68 L142.17,351.68 L142.85,351.68 L143.53,351.68 L144.21,351.68 L144.88,351.68 L145.56,351.68 L146.24,351.68 L146.92,351.68 L147.60,351.68 L148.28,351.68 L148.96,351.68 L149.64,351.68 L150.31,351.68 L150.99,351.68 L151.67,351.19 L152.35,350.63 L153.03,350.10 L153.71,349.58 L154.39,349.07 L155.07,348.58 L155.74,348.11 L156.42,347.66 L157.10,347.22 L157.78,346.79 L158.46,346.39 L159.14,346.00 L159.82,345.62 L160.50,345.26 L161.17,344.92 L161.85,344.60 L162.53,344.29 L163.21,343.99 L163.89,343.71 L164.57,343.45 L165.25,343.21 L165.93,342.98 L166.60,342.77 L167.28,342.57 L167.96,342.39 L168.64,342.23 L169.32,342.08 L170.00,341.95 L170.68,341.83 L171.36,341.73 L172.03,341.65 L172.71,341.58 L173.39,341.53 L174.07,341.50 L174.75,341.48 L175.43,341.48 L176.11,341.49 L176.79,341.52 L177.46,341.57 L178.14,341.63 L178.82,341.71 L179.50,341.80 L180.18,341.92 L180.86,342.04 L181.54,342.19 L182.22,342.35 L182.89,342.52 L183.57,342.72 L184.25,342.92 L184.93,343.15 L185.61,343.39 L186.29,343.65 L186.97,343.92 L187.65,344.21 L188.32,344.52 L189.00,344.84 L189.68,345.18 L190.36,345.53 L191.04,345.90 L191.72,346.29 L192.40,346.69 L193.08,347.11 L193.75,347.54 L194.43,348.00 L195.11,348.46 L195.79,348.95 L196.47,349.45 L197.15,349.96 L197.83,350.50 L198.51,351.04 L199.18,351.61 L199.86,351.68 L200.54,351.68 L201.22,351.68 L201.90,351.68 L202.58,351.68 L203.26,351.68 L203.94,351.68 L204.61,351.68 L205.29,351.68 L205.97,351.68 L206.65,351.68 L207.33,351.68 L208.01,351.68 L208.69,351.68 L209.37,351.68 L210.04,351.68 L210.72,351.69 L211.40,351.69 L212.08,351.70 L212.76,351.70 L213.44,351.71 L214.12,351.72 L214.80,351.72 L215.47,351.73 L216.15,351.73 L216.83,351.74 L217.51,351.74 L218.19,351.75 L218.87,351.75 L219.55,351.76 L220.23,351.76 L220.90,351.77 L221.58,351.80 L222.26,351.83 L222.94,351.86 L223.62,351.89 L224.30,351.92 L224.98,351.95 L225.66,351.98 L226.33,352.01 L227.01,352.04 L227.69,352.07 L228.37,352.10 L229.05,352.13" stroke="#ff0000" stroke-width="1.5" stroke-dasharray="4.8 7.15"/>
<path d="M229.05,352.13 L229.50,352.15 L229.96,352.17 L230.41,352.20 L230.87,352.22 L231.32,352.24 L231.78,352.26 L232.23,352.28 L232.69,352.31 L233.14,352.33 L233.60,352.35 L234.05,352.37 L234.51,352.40 L234.96,352.42 L235.42,352.44 L235.87,352.46 L236.33,352.47 L236.78,352.49 L237.24,352.50 L237.69,352.51 L238.15,352.52 L238.60,352.54 L239.06,352.55 L239.51,352.56 L239.97,352.57 L240.42,352.59 L240.88,352.60 L241.33,352.61 L241.79,352.63 L242.24,352.64 L242.70,352.65 L243.15,352.66 L243.61,352.68 L244.06,352.69 L244.52,352.69 L244.97,352.69 L245.43,352.69 L245.88,352.70 L246.34,352.70 L246.79,352.70 L247.25,352.71 L247.70,352.71 L248.16,352.71 L248.61,352.71 L249.07,352.72 L249.52,352.72 L249.98,352.72 L250.43,352.73 L250.89,352.73 L251.34,352.73 L251.80,352.73 L252.25,352.74 L252.71,352.74 L253.16,352.74 L253.62,352.74 L254.07,352.75 L254.53,352.75 L254.98,352.75 L255.44,352.76 L255.89,352.76 L256.35,352.76" stroke="#ff0000" stroke-width="1.5" stroke-dasharray="4.8 7.15"/>
<path d="M256.76,352.76 L257.44,352.76 L258.12,352.76 L258.80,352.76 L259.48,352.75 L260.16,352.75 L260.84,352.74 L261.52,352.74 L262.20,352.73 L262.88,352.73 L263.56,352.73 L264.24,352.72 L264.92,352.72 L265.60,352.71 L266.28,352.71 L266.96,352.71 L267.64,352.70 L268.32,352.70 L269.00,352.69 L269.68,352.69 L270.36,352.68 L271.04,352.66 L271.72,352.64 L272.40,352.62 L273.08,352.60 L273.76,352.58 L274.44,352.57 L275.12,352.55 L275.80,352.53 L276.48,352.51 L277.16,352.49 L277.84,352.47 L278.52,352.45 L279.20,352.41 L279.88,352.38 L280.56,352.35 L281.24,352.31 L281.92,352.28 L282.60,352.25 L283.28,352.21 L283.96,352.18 L284.64,352.15 L285.32,352.12 L286.00,352.09 L286.68,352.06 L287.37,352.03 L288.05,352.00 L288.73,351.96 L289.41,351.93 L290.09,351.90 L290.77,351.87 L291.45,351.84 L292.13,351.81 L292.81,351.78 L293.49,351.77 L294.17,351.76 L294.85,351.76 L295.53,351.75 L296.21,351.75 L296.89,351.74 L297.57,351.73 L298.25,351.73 L298.93,351.72 L299.61,351.72 L300.29,351.71 L300.97,351.71 L301.65,351.70 L302.33,351.70 L303.01,351.69 L303.69,351.69 L304.37,351.68 L305.05,351.68 L305.73,351.68 L306.41,351.68 L307.09,351.68 L307.77,351.68 L308.45,351.68 L309.13,351.68 L309.81,351.68 L310.49,351.68 L311.17,351.68 L311.85,351.68 L312.53,351.68 L313.21,351.68 L313.89,351.68 L314.57,351.68 L315.25,351.33 L315.93,350.77 L316.61,350.23 L317.29,349.70 L317.97,349.19 L318.66,348.70 L319.34,348.22 L320.02,347.76 L320.70,347.32 L321.38,346.89 L322.06,346.48 L322.74,346.08 L323.42,345.70 L324.10,345.34 L324.78,344.99 L325.46,344.66 L326.14,344.35 L326.82,344.05 L327.50,343.77 L328.18,343.51 L328.86,343.26 L329.54,343.02 L330.22,342.81 L330.90,342.61 L331.58,342.42 L332.26,342.26 L332.94,342.11 L333.62,341.97 L334.30,341.85 L334.98,341.75 L335.66,341.66 L336.34,341.59 L337.02,341.54 L337.70,341.50 L338.38,341.48 L339.06,341.48 L339.74,341.49 L340.42,341.52 L341.10,341.56 L341.78,341.62 L342.46,341.70 L343.14,341.79 L343.82,341.90 L344.50,342.02 L345.18,342.16 L345.86,342.32 L346.54,342.50 L347.22,342.69 L347.90,342.89 L348.58,343.12 L349.26,343.36 L349.95,343.61 L350.63,343.88 L351.31,344.17 L351.99,344.47 L352.67,344.79 L353.35,345.13 L354.03,345.48 L354.71,345.85 L355.39,346.24 L356.07,346.64 L356.75,347.06 L357.43,347.49 L358.11,347.94 L358.79,348.41 L359.47,348.89 L360.15,349.39 L360.83,349.91 L361.51,350.44 L362.19,350.99 L362.87,351.55 L363.55,351.68 L364.23,351.68 L364.91,351.68 L365.59,351.68 L366.27,351.68 L366.95,351.68 L367.63,351.68 L368.31,351.68 L368.99,351.68 L369.67,351.68 L370.35,351.68 L371.03,351.68 L371.71,351.68 L372.39,351.68 L373.07,351.68 L373.75,351.68 L374.43,351.69 L375.11,351.69 L375.79,351.70 L376.47,351.70 L377.15,351.71 L377.83,351.72 L378.51,351.72 L379.19,351.73 L379.87,351.73 L380.55,351.74 L381.24,351.74 L381.92,351.75 L382.60,351.75 L383.28,351.76 L383.96,351.76 L384.64,351.77 L385.32,351.79 L386.00,351.83 L386.68,351.86 L387.36,351.89 L388.04,351.92 L388.72,351.95 L389.40,351.98 L390.08,352.01 L390.76,352.04 L391.44,352.07 L392.12,352.10 L392.80,352.13" stroke="#ff0000" stroke-width="1.5" stroke-dasharray="4.8 7.15"/>
<path d="M392.80,352.13 L393.27,352.15 L393.73,352.17 L394.20,352.20 L394.67,352.22 L395.13,352.24 L395.60,352.27 L396.07,352.29 L396.53,352.31 L397.00,352.33 L397.47,352.36 L397.93,352.38 L398.40,352.40 L398.87,352.43 L399.33,352.45 L399.80,352.46 L400.27,352.48 L400.73,352.49 L401.20,352.50 L401.67,352.52 L402.13,352.53 L402.60,352.54 L403.07,352.56 L403.53,352.57 L404.00,352.58 L404.47,352.60 L404.93,352.61 L405.40,352.62 L405.87,352.63 L406.33,352.65 L406.80,352.66 L407.27,352.67 L407.73,352.69 L408.20,352.69 L408.67,352.69 L409.13,352.69 L409.60,352.70 L410.07,352.70 L410.53,352.70 L411.00,352.71 L411.47,352.71 L411.93,352.71 L412.40,352.71 L412.87,352.72 L413.33,352.72 L413.80,352.72 L414.27,352.73 L414.73,352.73 L415.20,352.73 L415.67,352.73 L416.13,352.74 L416.60,352.74 L417.07,352.74 L417.53,352.75 L418.00,352.75 L418.47,352.75 L418.93,352.75 L419.40,352.76 L419.87,352.76 L420.33,352.76 L420.80,352.77" stroke="#ff0000" stroke-width="1.5" stroke-dasharray="4.8 7.15"/>

<path d="M93.30,231.55 L93.98,231.55 L94.66,231.56 L95.34,231.57 L96.01,231.59 L96.69,231.61 L97.37,231.63 L98.05,231.66 L98.73,231.69 L99.41,231.73 L100.09,231.77 L100.77,231.82 L101.44,231.87 L102.12,231.92 L102.80,231.98 L103.48,232.04 L104.16,232.11 L104.84,232.18 L105.52,232.25 L106.20,232.33 L106.87,232.41 L107.55,232.50 L108.23,232.58 L108.91,232.68 L109.59,232.77 L110.27,232.87 L110.95,232.98 L111.63,233.09 L112.30,233.20 L112.98,233.31 L113.66,233.43 L114.34,233.55 L115.02,233.67 L115.70,233.80 L116.38,233.92 L117.06,234.06 L117.73,234.19 L118.41,234.33 L119.09,234.47 L119.77,234.61 L120.45,234.75 L121.13,234.90 L121.81,235.05 L122.49,235.20 L123.16,235.35 L123.84,235.51 L124.52,235.66 L125.20,235.82 L125.88,235.98 L126.56,236.14 L127.24,236.30 L127.92,236.46 L128.59,236.63 L129.27,236.79 L129.95,236.96 L130.63,237.12 L131.31,237.29 L131.99,237.46 L132.67,237.63 L133.35,237.79 L134.02,237.96 L134.70,238.13 L135.38,238.30 L136.06,238.47 L136.74,238.63 L137.42,238.80 L138.10,238.97 L138.78,239.13 L139.45,239.30 L140.13,239.46 L140.81,239.63 L141.49,239.79 L142.17,239.95 L142.85,240.11 L143.53,240.27 L144.21,240.43 L144.88,240.58 L145.56,240.74 L146.24,240.89 L146.92,241.04 L147.60,241.19 L148.28,241.33 L148.96,241.47 L149.64,241.62 L150.31,241.75 L150.99,241.89 L151.67,242.02 L152.35,242.15 L153.03,242.28 L153.71,242.41 L154.39,242.53 L155.07,242.65 L155.74,242.76 L156.42,242.88 L157.10,242.99 L157.78,243.09 L158.46,243.19 L159.14,243.29 L159.82,243.39 L160.50,243.48 L161.17,243.57 L161.85,243.65 L162.53,243.73 L163.21,243.81 L163.89,243.88 L164.57,243.95 L165.25,244.01 L165.93,244.08 L166.60,244.13 L167.28,244.18 L167.96,244.23 L168.64,244.28 L169.32,244.32 L170.00,244.35 L170.68,244.38 L171.36,244.41 L172.03,244.43 L172.71,244.45 L173.39,244.46 L174.07,244.47 L174.75,244.48 L175.43,244.48 L176.11,244.47 L176.79,244.47 L177.46,244.45 L178.14,244.44 L178.82,244.41 L179.50,244.39 L180.18,244.36 L180.86,244.32 L181.54,244.29 L182.22,244.24 L182.89,244.20 L183.57,244.15 L184.25,244.09 L184.93,244.03 L185.61,243.97 L186.29,243.90 L186.97,243.83 L187.65,243.75 L188.32,243.67 L189.00,243.59 L189.68,243.50 L190.36,243.41 L191.04,243.32 L191.72,243.22 L192.40,243.12 L193.08,243.01 L193.75,242.90 L194.43,242.79 L195.11,242.68 L195.79,242.56 L196.47,242.44 L197.15,242.31 L197.83,242.19 L198.51,242.06 L199.18,241.92 L199.86,241.79 L200.54,241.65 L201.22,241.51 L201.90,241.37 L202.58,241.22 L203.26,241.08 L203.94,240.93 L204.61,240.77 L205.29,240.62 L205.97,240.47 L206.65,240.31 L207.33,240.15 L208.01,239.99 L208.69,239.83 L209.37,239.67 L210.04,239.51 L210.72,239.34 L211.40,239.18 L212.08,239.01 L212.76,238.84 L213.44,238.68 L214.12,238.51 L214.80,238.34 L215.47,238.17 L216.15,238.01 L216.83,237.84 L217.51,237.67 L218.19,237.50 L218.87,237.33 L219.55,237.17 L220.23,237.00 L220.90,236.83 L221.58,236.67 L222.26,236.50 L222.94,236.34 L223.62,236.18 L224.30,236.02 L224.98,235.86 L225.66,235.70 L226.33,235.54 L227.01,235.39 L227.69,235.24 L228.37,235.09 L229.05,234.94" stroke="#0000ff" stroke-width="1.6" stroke-dasharray="14.4 4.65 2.5 4.75"/>
<path d="M229.05,234.94 L229.50,234.84 L229.96,234.74 L230.41,234.64 L230.87,234.55 L231.32,234.45 L231.78,234.36 L232.23,234.27 L232.69,234.18 L233.14,234.09 L233.60,234.00 L234.05,233.91 L234.51,233.82 L234.96,233.74 L235.42,233.65 L235.87,233.57 L236.33,233.49 L236.78,233.41 L237.24,233.33 L237.69,233.25 L238.15,233.18 L238.60,233.10 L239.06,233.03 L239.51,232.96 L239.97,232.89 L240.42,232.82 L240.88,232.76 L241.33,232.69 L241.79,232.63 L242.24,232.57 L242.70,232.51 L243.15,232.45 L243.61,232.39 L244.06,232.34 L244.52,232.29 L244.97,232.23 L245.43,232.18 L245.88,232.14 L246.34,232.09 L246.79,232.05 L247.25,232.00 L247.70,231.96 L248.16,231.92 L248.61,231.89 L249.07,231.85 L249.52,231.82 L249.98,231.79 L250.43,231.76 L250.89,231.73 L251.34,231.71 L251.80,231.68 L252.25,231.66 L252.71,231.64 L253.16,231.62 L253.62,231.61 L254.07,231.59 L254.53,231.58 L254.98,231.57 L255.44,231.56 L255.89,231.56 L256.35,231.55" stroke="#0000ff" stroke-width="1.6" stroke-dasharray="14.4 4.65 2.5 4.75"/>
<path d="M256.76,231.55 L257.44,231.55 L258.12,231.56 L258.80,231.57 L259.48,231.58 L260.16,231.60 L260.84,231.62 L261.52,231.65 L262.20,231.68 L262.88,231.71 L263.56,231.75 L264.24,231.80 L264.92,231.84 L265.60,231.90 L266.28,231.95 L266.96,232.01 L267.64,232.08 L268.32,232.15 L269.00,232.22 L269.68,232.30 L270.36,232.38 L271.04,232.46 L271.72,232.55 L272.40,232.64 L273.08,232.74 L273.76,232.84 L274.44,232.94 L275.12,233.04 L275.80,233.15 L276.48,233.27 L277.16,233.38 L277.84,233.50 L278.52,233.62 L279.20,233.75 L279.88,233.88 L280.56,234.01 L281.24,234.14 L281.92,234.28 L282.60,234.42 L283.28,234.56 L283.96,234.70 L284.64,234.85 L285.32,235.00 L286.00,235.15 L286.68,235.30 L287.37,235.45 L288.05,235.61 L288.73,235.77 L289.41,235.93 L290.09,236.09 L290.77,236.25 L291.45,236.41 L292.13,236.57 L292.81,236.74 L293.49,236.90 L294.17,237.07 L294.85,237.24 L295.53,237.41 L296.21,237.57 L296.89,237.74 L297.57,237.91 L298.25,238.08 L298.93,238.25 L299.61,238.42 L300.29,238.59 L300.97,238.75 L301.65,238.92 L302.33,239.09 L303.01,239.25 L303.69,239.42 L304.37,239.58 L305.05,239.75 L305.73,239.91 L306.41,240.07 L307.09,240.23 L307.77,240.38 L308.45,240.54 L309.13,240.70 L309.81,240.85 L310.49,241.00 L311.17,241.15 L311.85,241.29 L312.53,241.44 L313.21,241.58 L313.89,241.72 L314.57,241.86 L315.25,241.99 L315.93,242.12 L316.61,242.25 L317.29,242.38 L317.97,242.50 L318.66,242.62 L319.34,242.74 L320.02,242.85 L320.70,242.96 L321.38,243.07 L322.06,243.17 L322.74,243.27 L323.42,243.37 L324.10,243.46 L324.78,243.55 L325.46,243.63 L326.14,243.72 L326.82,243.79 L327.50,243.87 L328.18,243.94 L328.86,244.00 L329.54,244.06 L330.22,244.12 L330.90,244.17 L331.58,244.22 L332.26,244.27 L332.94,244.31 L333.62,244.34 L334.30,244.38 L334.98,244.40 L335.66,244.43 L336.34,244.45 L337.02,244.46 L337.70,244.47 L338.38,244.48 L339.06,244.48 L339.74,244.47 L340.42,244.47 L341.10,244.46 L341.78,244.44 L342.46,244.42 L343.14,244.39 L343.82,244.36 L344.50,244.33 L345.18,244.29 L345.86,244.25 L346.54,244.20 L347.22,244.15 L347.90,244.10 L348.58,244.04 L349.26,243.98 L349.95,243.91 L350.63,243.84 L351.31,243.76 L351.99,243.68 L352.67,243.60 L353.35,243.51 L354.03,243.42 L354.71,243.33 L355.39,243.23 L356.07,243.13 L356.75,243.02 L357.43,242.92 L358.11,242.80 L358.79,242.69 L359.47,242.57 L360.15,242.45 L360.83,242.33 L361.51,242.20 L362.19,242.07 L362.87,241.94 L363.55,241.80 L364.23,241.66 L364.91,241.52 L365.59,241.38 L366.27,241.23 L366.95,241.09 L367.63,240.94 L368.31,240.79 L368.99,240.63 L369.67,240.48 L370.35,240.32 L371.03,240.16 L371.71,240.00 L372.39,239.84 L373.07,239.68 L373.75,239.52 L374.43,239.35 L375.11,239.19 L375.79,239.02 L376.47,238.85 L377.15,238.69 L377.83,238.52 L378.51,238.35 L379.19,238.18 L379.87,238.01 L380.55,237.84 L381.24,237.67 L381.92,237.51 L382.60,237.34 L383.28,237.17 L383.96,237.00 L384.64,236.84 L385.32,236.67 L386.00,236.51 L386.68,236.34 L387.36,236.18 L388.04,236.02 L388.72,235.86 L389.40,235.70 L390.08,235.55 L390.76,235.39 L391.44,235.24 L392.12,235.09 L392.80,234.94" stroke="#0000ff" stroke-width="1.6" stroke-dasharray="14.4 4.65 2.5 4.75"/>
<path d="M392.80,234.94 L393.27,234.84 L393.73,234.74 L394.20,234.64 L394.67,234.54 L395.13,234.44 L395.60,234.35 L396.07,234.25 L396.53,234.16 L397.00,234.07 L397.47,233.97 L397.93,233.88 L398.40,233.80 L398.87,233.71 L399.33,233.62 L399.80,233.54 L400.27,233.46 L400.73,233.38 L401.20,233.30 L401.67,233.22 L402.13,233.14 L402.60,233.07 L403.07,232.99 L403.53,232.92 L404.00,232.85 L404.47,232.78 L404.93,232.71 L405.40,232.65 L405.87,232.58 L406.33,232.52 L406.80,232.46 L407.27,232.40 L407.73,232.35 L408.20,232.29 L408.67,232.24 L409.13,232.19 L409.60,232.14 L410.07,232.09 L410.53,232.05 L411.00,232.00 L411.47,231.96 L411.93,231.92 L412.40,231.89 L412.87,231.85 L413.33,231.82 L413.80,231.78 L414.27,231.75 L414.73,231.73 L415.20,231.70 L415.67,231.68 L416.13,231.66 L416.60,231.64 L417.07,231.62 L417.53,231.60 L418.00,231.59 L418.47,231.58 L418.93,231.57 L419.40,231.56 L419.87,231.56 L420.33,231.55 L420.80,231.55" stroke="#0000ff" stroke-width="1.6" stroke-dasharray="14.4 4.65 2.5 4.75"/>

</g>
<path d="M93.30,352.8v-7.6M93.30,204.1v7.6M134.24,352.8v-3.9M134.24,204.1v3.9M175.18,352.8v-7.6M175.18,204.1v7.6M216.11,352.8v-3.9M216.11,204.1v3.9M257.05,352.8v-7.6M257.05,204.1v7.6M297.99,352.8v-3.9M297.99,204.1v3.9M338.93,352.8v-7.6M338.93,204.1v7.6M379.86,352.8v-3.9M379.86,204.1v3.9M420.80,352.8v-7.6M420.80,204.1v7.6M93.3,352.80h7.6M420.8,352.80h-7.6M93.3,329.92h7.6M420.8,329.92h-7.6M93.3,307.05h7.6M420.8,307.05h-7.6M93.3,284.17h7.6M420.8,284.17h-7.6M93.3,261.29h7.6M420.8,261.29h-7.6M93.3,238.42h7.6M420.8,238.42h-7.6M93.3,215.54h7.6M420.8,215.54h-7.6" stroke="#000" stroke-width="1.4" fill="none"/>
<rect x="93.3" y="204.1" width="327.5" height="148.70000000000002" fill="none" stroke="#000" stroke-width="1.7"/>
<text transform="translate(83.6,358.60) scale(1.055,1)" text-anchor="end" class="s">0</text>
<text transform="translate(83.6,335.72) scale(1.055,1)" text-anchor="end" class="s">0.2</text>
<text transform="translate(83.6,312.85) scale(1.055,1)" text-anchor="end" class="s">0.4</text>
<text transform="translate(83.6,289.97) scale(1.055,1)" text-anchor="end" class="s">0.6</text>
<text transform="translate(83.6,267.09) scale(1.055,1)" text-anchor="end" class="s">0.8</text>
<text transform="translate(83.6,244.22) scale(1.055,1)" text-anchor="end" class="s">1</text>
<text transform="translate(83.6,221.34) scale(1.055,1)" text-anchor="end" class="s">1.2</text>
<text transform="translate(40.6,279.05) rotate(-90)" text-anchor="middle" class="i">Flux</text>
<text x="386.00" y="333.16" text-anchor="middle" class="r">b</text>
<clipPath id="clipc"><rect x="93.3" y="385.4" width="327.5" height="148.80000000000007"/></clipPath>
<g clip-path="url(#clipc)" fill="none" stroke-linejoin="round">
<path d="M93.30,445.60 L93.93,445.57 L94.55,445.49 L95.18,445.02 L95.81,444.25 L96.44,443.22 L97.06,441.96 L97.69,440.58 L98.32,438.95 L98.94,436.86 L99.57,434.42 L100.20,431.87 L100.83,429.13 L101.45,426.37 L102.08,423.43 L102.71,421.57 L103.33,420.46 L103.96,419.53 L104.59,418.73 L105.21,417.98 L105.84,417.19 L106.47,416.43 L107.10,415.64 L107.72,414.73 L108.35,413.53 L108.98,412.07 L109.60,410.56 L110.23,409.16 L110.86,407.73 L111.49,406.56 L112.11,405.82 L112.74,405.26 L113.37,404.77 L113.99,404.30 L114.62,403.87 L115.25,403.52 L115.88,403.21 L116.50,402.96 L117.13,402.92 L117.76,403.13 L118.38,403.42 L119.01,403.66 L119.64,403.94 L120.27,404.15 L120.89,404.19 L121.52,404.07 L122.15,403.86 L122.77,403.54 L123.40,403.01 L124.03,402.45 L124.65,402.00 L125.28,401.59 L125.91,401.32 L126.54,401.34 L127.16,401.51 L127.79,401.73 L128.42,401.94 L129.04,402.17 L129.67,402.42 L130.30,402.62 L130.93,402.70 L131.55,402.65 L132.18,402.52 L132.81,402.36 L133.43,402.17 L134.06,401.98 L134.69,401.70 L135.32,401.38 L135.94,401.10 L136.57,400.93 L137.20,400.91 L137.82,400.98 L138.45,401.10 L139.08,401.25 L139.71,401.41 L140.33,401.56 L140.96,401.70 L141.59,401.86 L142.21,402.02 L142.84,402.19 L143.47,402.35 L144.10,402.52 L144.72,402.67 L145.35,402.81 L145.98,402.93 L146.60,403.03 L147.23,403.12 L147.86,403.20 L148.48,403.28 L149.11,403.36 L149.74,403.45 L150.37,403.55 L150.99,403.68 L151.62,403.84 L152.25,404.05 L152.87,404.29 L153.50,404.56 L154.13,404.83 L154.76,405.09 L155.38,405.33 L156.01,405.56 L156.64,405.79 L157.26,406.02 L157.89,406.24 L158.52,406.44 L159.15,406.62 L159.77,406.76 L160.40,406.89 L161.03,407.01 L161.65,407.13 L162.28,407.23 L162.91,407.31 L163.54,407.38 L164.16,407.43 L164.79,407.47 L165.42,407.52 L166.04,407.56 L166.67,407.60 L167.30,407.63 L167.92,407.65 L168.55,407.68 L169.18,407.69 L169.81,407.70 L170.43,407.70 L171.06,407.70 L171.69,407.70 L172.31,407.70 L172.94,407.70 L173.57,407.70 L174.20,407.70 L174.82,407.70 L175.45,407.70 L176.08,407.70 L176.70,407.70 L177.33,407.70 L177.96,407.70 L178.59,407.70 L179.21,407.70 L179.84,407.70 L180.47,407.70 L181.09,407.69 L181.72,407.68 L182.35,407.66 L182.98,407.63 L183.60,407.60 L184.23,407.56 L184.86,407.52 L185.48,407.48 L186.11,407.43 L186.74,407.38 L187.36,407.32 L187.99,407.24 L188.62,407.14 L189.25,407.03 L189.87,406.91 L190.50,406.78 L191.13,406.64 L191.75,406.47 L192.38,406.27 L193.01,406.05 L193.64,405.82 L194.26,405.59 L194.89,405.36 L195.52,405.12 L196.14,404.86 L196.77,404.59 L197.40,404.32 L198.03,404.07 L198.65,403.86 L199.28,403.69 L199.91,403.57 L200.53,403.46 L201.16,403.37 L201.79,403.29 L202.42,403.21 L203.04,403.13 L203.67,403.05 L204.30,402.95 L204.92,402.83 L205.55,402.69 L206.18,402.54 L206.81,402.37 L207.43,402.21 L208.06,402.04 L208.69,401.88 L209.31,401.72 L209.94,401.58 L210.57,401.43 L211.19,401.27 L211.82,401.11 L212.45,400.99 L213.08,400.91 L213.70,400.92 L214.33,401.07 L214.96,401.35 L215.58,401.66 L216.21,401.95 L216.84,402.15 L217.47,402.33 L218.09,402.51 L218.72,402.64 L219.35,402.70 L219.97,402.64 L220.60,402.45 L221.23,402.20 L221.86,401.96 L222.48,401.76 L223.11,401.53 L223.74,401.36 L224.36,401.31 L224.99,401.55 L225.62,401.95 L226.25,402.38 L226.87,402.94 L227.50,403.48 L228.13,403.83 L228.75,404.05 L229.38,404.18 L230.01,404.16 L230.63,403.97 L231.26,403.69 L231.89,403.45 L232.52,403.16 L233.14,402.94 L233.77,402.94 L234.40,403.17 L235.02,403.49 L235.65,403.83 L236.28,404.24 L236.91,404.71 L237.53,405.20 L238.16,405.74 L238.79,406.45 L239.41,407.56 L240.04,408.98 L240.67,410.38 L241.30,411.88 L241.92,413.36 L242.55,414.60 L243.18,415.54 L243.80,416.34 L244.43,417.10 L245.06,417.89 L245.69,418.64 L246.31,419.43 L246.94,420.34 L247.57,421.42 L248.19,423.12 L248.82,426.02 L249.45,428.79 L250.07,431.55 L250.70,434.11 L251.33,436.57 L251.96,438.72 L252.58,440.40 L253.21,441.80 L253.84,443.07 L254.46,444.14 L255.09,444.94 L255.72,445.46 L256.35,445.56" stroke="#000" stroke-width="2.1"/>
<path d="M256.76,445.59 L257.39,445.59 L258.02,445.53 L258.65,445.28 L259.28,444.64 L259.91,443.70 L260.54,442.52 L261.17,441.19 L261.80,439.68 L262.43,437.79 L263.06,435.44 L263.70,432.92 L264.33,430.24 L264.96,427.44 L265.59,424.54 L266.22,422.12 L266.85,420.84 L267.48,419.85 L268.11,419.01 L268.74,418.25 L269.37,417.47 L270.01,416.69 L270.64,415.92 L271.27,415.05 L271.90,413.96 L272.53,412.55 L273.16,411.02 L273.79,409.59 L274.42,408.14 L275.05,406.85 L275.68,406.01 L276.31,405.41 L276.95,404.90 L277.58,404.42 L278.21,403.98 L278.84,403.61 L279.47,403.29 L280.10,403.01 L280.73,402.90 L281.36,403.07 L281.99,403.36 L282.62,403.60 L283.25,403.88 L283.89,404.11 L284.52,404.20 L285.15,404.10 L285.78,403.90 L286.41,403.62 L287.04,403.11 L287.67,402.54 L288.30,402.07 L288.93,401.65 L289.56,401.34 L290.20,401.33 L290.83,401.48 L291.46,401.70 L292.09,401.91 L292.72,402.14 L293.35,402.39 L293.98,402.61 L294.61,402.70 L295.24,402.66 L295.87,402.54 L296.50,402.37 L297.14,402.19 L297.77,402.00 L298.40,401.72 L299.03,401.40 L299.66,401.12 L300.29,400.93 L300.92,400.91 L301.55,400.97 L302.18,401.09 L302.81,401.24 L303.44,401.41 L304.08,401.56 L304.71,401.70 L305.34,401.86 L305.97,402.02 L306.60,402.19 L307.23,402.36 L307.86,402.52 L308.49,402.68 L309.12,402.82 L309.75,402.94 L310.39,403.04 L311.02,403.13 L311.65,403.21 L312.28,403.29 L312.91,403.37 L313.54,403.46 L314.17,403.56 L314.80,403.69 L315.43,403.85 L316.06,404.07 L316.69,404.32 L317.33,404.59 L317.96,404.86 L318.59,405.13 L319.22,405.36 L319.85,405.59 L320.48,405.83 L321.11,406.06 L321.74,406.28 L322.37,406.47 L323.00,406.64 L323.64,406.78 L324.27,406.91 L324.90,407.04 L325.53,407.15 L326.16,407.25 L326.79,407.33 L327.42,407.39 L328.05,407.44 L328.68,407.48 L329.31,407.53 L329.94,407.57 L330.58,407.60 L331.21,407.63 L331.84,407.66 L332.47,407.68 L333.10,407.69 L333.73,407.70 L334.36,407.70 L334.99,407.70 L335.62,407.70 L336.25,407.70 L336.88,407.70 L337.52,407.70 L338.15,407.70 L338.78,407.70 L339.41,407.70 L340.04,407.70 L340.67,407.70 L341.30,407.70 L341.93,407.70 L342.56,407.70 L343.19,407.70 L343.83,407.70 L344.46,407.70 L345.09,407.69 L345.72,407.67 L346.35,407.65 L346.98,407.62 L347.61,407.58 L348.24,407.55 L348.87,407.50 L349.50,407.46 L350.13,407.41 L350.77,407.36 L351.40,407.29 L352.03,407.20 L352.66,407.09 L353.29,406.97 L353.92,406.85 L354.55,406.71 L355.18,406.56 L355.81,406.37 L356.44,406.16 L357.07,405.94 L357.71,405.70 L358.34,405.47 L358.97,405.24 L359.60,404.99 L360.23,404.72 L360.86,404.45 L361.49,404.18 L362.12,403.95 L362.75,403.76 L363.38,403.62 L364.02,403.51 L364.65,403.41 L365.28,403.33 L365.91,403.25 L366.54,403.17 L367.17,403.08 L367.80,402.99 L368.43,402.87 L369.06,402.74 L369.69,402.59 L370.32,402.43 L370.96,402.27 L371.59,402.10 L372.22,401.93 L372.85,401.77 L373.48,401.63 L374.11,401.48 L374.74,401.32 L375.37,401.16 L376.00,401.02 L376.63,400.93 L377.27,400.90 L377.90,401.01 L378.53,401.26 L379.16,401.57 L379.79,401.88 L380.42,402.11 L381.05,402.29 L381.68,402.46 L382.31,402.61 L382.94,402.69 L383.57,402.67 L384.21,402.50 L384.84,402.26 L385.47,402.01 L386.10,401.81 L386.73,401.58 L387.36,401.38 L387.99,401.30 L388.62,401.48 L389.25,401.88 L389.88,402.30 L390.51,402.84 L391.15,403.40 L391.78,403.79 L392.41,404.02 L393.04,404.17 L393.67,404.18 L394.30,404.00 L394.93,403.73 L395.56,403.48 L396.19,403.20 L396.82,402.95 L397.46,402.92 L398.09,403.14 L398.72,403.46 L399.35,403.80 L399.98,404.21 L400.61,404.67 L401.24,405.17 L401.87,405.71 L402.50,406.40 L403.13,407.50 L403.76,408.92 L404.40,410.33 L405.03,411.83 L405.66,413.33 L406.29,414.58 L406.92,415.53 L407.55,416.33 L408.18,417.10 L408.81,417.89 L409.44,418.65 L410.07,419.44 L410.70,420.36 L411.34,421.45 L411.97,423.21 L412.60,426.14 L413.23,428.93 L413.86,431.69 L414.49,434.27 L415.12,436.73 L415.75,438.86 L416.38,440.52 L417.01,441.91 L417.65,443.18 L418.28,444.23 L418.91,445.01 L419.54,445.49 L420.17,445.57 L420.80,445.60" stroke="#000" stroke-width="2.1"/>

<path d="M93.30,506.55 L93.98,506.31 L94.66,505.98 L95.34,505.18 L96.01,504.12 L96.69,502.90 L97.37,501.46 L98.05,499.83 L98.73,497.76 L99.41,495.19 L100.09,492.43 L100.77,489.47 L101.44,486.45 L102.12,483.27 L102.80,481.37 L103.48,480.20 L104.16,479.20 L104.84,478.33 L105.52,477.47 L106.20,476.59 L106.87,475.72 L107.55,474.74 L108.23,473.49 L108.91,471.89 L109.59,470.21 L110.27,468.64 L110.95,467.05 L111.63,465.83 L112.30,465.04 L112.98,464.42 L113.66,463.84 L114.34,463.29 L115.02,462.82 L115.70,462.42 L116.38,462.05 L117.06,461.90 L117.73,462.05 L118.41,462.29 L119.09,462.49 L119.77,462.71 L120.45,462.84 L121.13,462.74 L121.81,462.49 L122.49,462.16 L123.16,461.59 L123.84,460.90 L124.52,460.30 L125.20,459.78 L125.88,459.39 L126.56,459.33 L127.24,459.44 L127.92,459.60 L128.59,459.74 L129.27,459.93 L129.95,460.11 L130.63,460.19 L131.31,460.11 L131.99,459.92 L132.67,459.66 L133.35,459.38 L134.02,459.10 L134.70,458.71 L135.38,458.29 L136.06,457.92 L136.74,457.68 L137.42,457.62 L138.10,457.64 L138.78,457.71 L139.45,457.80 L140.13,457.89 L140.81,457.97 L141.49,458.05 L142.17,458.15 L142.85,458.25 L143.53,458.36 L144.21,458.46 L144.88,458.54 L145.56,458.62 L146.24,458.67 L146.92,458.70 L147.60,458.72 L148.28,458.73 L148.96,458.75 L149.64,458.77 L150.31,458.82 L150.99,458.88 L151.67,458.99 L152.35,459.16 L153.03,459.37 L153.71,459.60 L154.39,459.84 L155.07,460.05 L155.74,460.24 L156.42,460.44 L157.10,460.64 L157.78,460.83 L158.46,461.00 L159.14,461.14 L159.82,461.25 L160.50,461.35 L161.17,461.43 L161.85,461.51 L162.53,461.58 L163.21,461.62 L163.89,461.65 L164.57,461.67 L165.25,461.68 L165.93,461.70 L166.60,461.71 L167.28,461.72 L167.96,461.73 L168.64,461.73 L169.32,461.72 L170.00,461.71 L170.68,461.70 L171.36,461.69 L172.03,461.68 L172.71,461.67 L173.39,461.66 L174.07,461.66 L174.75,461.65 L175.43,461.65 L176.11,461.65 L176.79,461.66 L177.46,461.66 L178.14,461.67 L178.82,461.68 L179.50,461.70 L180.18,461.71 L180.86,461.72 L181.54,461.73 L182.22,461.73 L182.89,461.72 L183.57,461.71 L184.25,461.70 L184.93,461.69 L185.61,461.67 L186.29,461.65 L186.97,461.63 L187.65,461.59 L188.32,461.53 L189.00,461.46 L189.68,461.37 L190.36,461.27 L191.04,461.17 L191.72,461.04 L192.40,460.87 L193.08,460.69 L193.75,460.49 L194.43,460.29 L195.11,460.10 L195.79,459.89 L196.47,459.66 L197.15,459.43 L197.83,459.21 L198.51,459.03 L199.18,458.90 L199.86,458.83 L200.54,458.78 L201.22,458.75 L201.90,458.73 L202.58,458.72 L203.26,458.70 L203.94,458.68 L204.61,458.63 L205.29,458.56 L205.97,458.48 L206.65,458.38 L207.33,458.28 L208.01,458.17 L208.69,458.07 L209.37,457.99 L210.04,457.91 L210.72,457.82 L211.40,457.73 L212.08,457.65 L212.76,457.62 L213.44,457.66 L214.12,457.84 L214.80,458.19 L215.47,458.61 L216.15,459.01 L216.83,459.31 L217.51,459.59 L218.19,459.86 L218.87,460.07 L219.55,460.19 L220.23,460.14 L220.90,459.98 L221.58,459.79 L222.26,459.64 L222.94,459.48 L223.62,459.35 L224.30,459.34 L224.98,459.66 L225.66,460.17 L226.33,460.73 L227.01,461.42 L227.69,462.04 L228.37,462.41 L229.05,462.69" stroke="#ff0000" stroke-width="1.5" stroke-dasharray="4.8 7.22"/>
<path d="M229.05,462.69 L229.50,462.81 L229.96,462.83 L230.41,462.76 L230.87,462.62 L231.32,462.47 L231.78,462.33 L232.23,462.19 L232.69,462.02 L233.14,461.91 L233.60,461.93 L234.05,462.09 L234.51,462.33 L234.96,462.60 L235.42,462.88 L235.87,463.19 L236.33,463.54 L236.78,463.92 L237.24,464.31 L237.69,464.71 L238.15,465.15 L238.60,465.67 L239.06,466.36 L239.51,467.30 L239.97,468.36 L240.42,469.43 L240.88,470.49 L241.33,471.62 L241.79,472.74 L242.24,473.75 L242.70,474.58 L243.15,475.27 L243.61,475.89 L244.06,476.47 L244.52,477.05 L244.97,477.65 L245.43,478.23 L245.88,478.80 L246.34,479.40 L246.79,480.07 L247.25,480.82 L247.70,481.70 L248.16,483.00 L248.61,485.06 L249.07,487.16 L249.52,489.19 L249.98,491.21 L250.43,493.13 L250.89,494.97 L251.34,496.75 L251.80,498.36 L252.25,499.71 L252.71,500.85 L253.16,501.86 L253.62,502.81 L254.07,503.68 L254.53,504.42 L254.98,505.14 L255.44,505.72 L255.89,506.10 L256.35,506.30" stroke="#ff0000" stroke-width="1.5" stroke-dasharray="4.8 7.22"/>
<path d="M256.76,506.45 L257.44,506.42 L258.12,506.14 L258.80,505.56 L259.48,504.57 L260.16,503.45 L260.84,502.08 L261.52,500.55 L262.20,498.70 L262.88,496.30 L263.56,493.58 L264.24,490.71 L264.92,487.67 L265.60,484.52 L266.28,481.98 L266.96,480.64 L267.64,479.58 L268.32,478.67 L269.00,477.82 L269.68,476.93 L270.36,476.06 L271.04,475.14 L271.72,474.02 L272.40,472.53 L273.08,470.84 L273.76,469.24 L274.44,467.63 L275.12,466.22 L275.80,465.31 L276.48,464.64 L277.16,464.05 L277.84,463.49 L278.52,462.98 L279.20,462.57 L279.88,462.17 L280.56,461.92 L281.24,461.97 L281.92,462.21 L282.60,462.41 L283.28,462.64 L283.96,462.81 L284.64,462.80 L285.32,462.59 L286.00,462.28 L286.68,461.81 L287.37,461.13 L288.05,460.48 L288.73,459.95 L289.41,459.48 L290.09,459.32 L290.77,459.39 L291.45,459.55 L292.13,459.70 L292.81,459.87 L293.49,460.06 L294.17,460.18 L294.85,460.15 L295.53,459.98 L296.21,459.74 L296.89,459.47 L297.57,459.19 L298.25,458.84 L298.93,458.42 L299.61,458.02 L300.29,457.73 L300.97,457.63 L301.65,457.63 L302.33,457.68 L303.01,457.77 L303.69,457.87 L304.37,457.95 L305.05,458.03 L305.73,458.12 L306.41,458.22 L307.09,458.33 L307.77,458.43 L308.45,458.52 L309.13,458.60 L309.81,458.65 L310.49,458.69 L311.17,458.71 L311.85,458.73 L312.53,458.74 L313.21,458.77 L313.89,458.80 L314.57,458.86 L315.25,458.96 L315.93,459.11 L316.61,459.32 L317.29,459.55 L317.97,459.78 L318.66,460.00 L319.34,460.20 L320.02,460.39 L320.70,460.59 L321.38,460.79 L322.06,460.96 L322.74,461.11 L323.42,461.23 L324.10,461.32 L324.78,461.42 L325.46,461.50 L326.14,461.56 L326.82,461.61 L327.50,461.64 L328.18,461.66 L328.86,461.68 L329.54,461.69 L330.22,461.71 L330.90,461.72 L331.58,461.73 L332.26,461.73 L332.94,461.73 L333.62,461.72 L334.30,461.70 L334.98,461.69 L335.66,461.68 L336.34,461.67 L337.02,461.66 L337.70,461.66 L338.38,461.65 L339.06,461.65 L339.74,461.65 L340.42,461.66 L341.10,461.66 L341.78,461.67 L342.46,461.68 L343.14,461.69 L343.82,461.71 L344.50,461.72 L345.18,461.73 L345.86,461.73 L346.54,461.72 L347.22,461.72 L347.90,461.70 L348.58,461.69 L349.26,461.67 L349.95,461.65 L350.63,461.63 L351.31,461.60 L351.99,461.54 L352.67,461.47 L353.35,461.38 L354.03,461.29 L354.71,461.18 L355.39,461.06 L356.07,460.89 L356.75,460.71 L357.43,460.51 L358.11,460.31 L358.79,460.12 L359.47,459.92 L360.15,459.69 L360.83,459.45 L361.51,459.23 L362.19,459.04 L362.87,458.91 L363.55,458.83 L364.23,458.79 L364.91,458.75 L365.59,458.74 L366.27,458.72 L366.95,458.70 L367.63,458.68 L368.31,458.64 L368.99,458.57 L369.67,458.49 L370.35,458.39 L371.03,458.29 L371.71,458.18 L372.39,458.08 L373.07,457.99 L373.75,457.92 L374.43,457.83 L375.11,457.73 L375.79,457.66 L376.47,457.62 L377.15,457.65 L377.83,457.83 L378.51,458.17 L379.19,458.59 L379.87,458.99 L380.55,459.30 L381.24,459.58 L381.92,459.85 L382.60,460.06 L383.28,460.18 L383.96,460.15 L384.64,459.99 L385.32,459.79 L386.00,459.65 L386.68,459.48 L387.36,459.35 L388.04,459.34 L388.72,459.65 L389.40,460.17 L390.08,460.72 L390.76,461.41 L391.44,462.03 L392.12,462.41 L392.80,462.69" stroke="#ff0000" stroke-width="1.5" stroke-dasharray="4.8 7.22"/>
<path d="M392.80,462.69 L393.27,462.81 L393.73,462.83 L394.20,462.75 L394.67,462.61 L395.13,462.45 L395.60,462.32 L396.07,462.16 L396.53,461.99 L397.00,461.90 L397.47,461.96 L397.93,462.15 L398.40,462.42 L398.87,462.69 L399.33,462.99 L399.80,463.32 L400.27,463.70 L400.73,464.09 L401.20,464.49 L401.67,464.92 L402.13,465.40 L402.60,466.01 L403.07,466.87 L403.53,467.92 L404.00,469.03 L404.47,470.10 L404.93,471.25 L405.40,472.40 L405.87,473.48 L406.33,474.39 L406.80,475.12 L407.27,475.77 L407.73,476.37 L408.20,476.96 L408.67,477.58 L409.13,478.17 L409.60,478.76 L410.07,479.37 L410.53,480.06 L411.00,480.82 L411.47,481.74 L411.93,483.10 L412.40,485.24 L412.87,487.38 L413.33,489.47 L413.80,491.53 L414.27,493.47 L414.73,495.35 L415.20,497.15 L415.67,498.74 L416.13,500.05 L416.60,501.18 L417.07,502.19 L417.53,503.15 L418.00,503.98 L418.47,504.73 L418.93,505.40 L419.40,505.94 L419.87,506.20 L420.33,506.39 L420.80,506.55" stroke="#ff0000" stroke-width="1.5" stroke-dasharray="4.8 7.22"/>

<path d="M93.30,486.40 L93.98,486.40 L94.66,486.40 L95.34,486.41 L96.01,486.41 L96.69,486.42 L97.37,486.44 L98.05,486.45 L98.73,486.47 L99.41,486.48 L100.09,486.50 L100.77,486.53 L101.44,486.55 L102.12,486.58 L102.80,486.60 L103.48,486.63 L104.16,486.67 L104.84,486.70 L105.52,486.74 L106.20,486.77 L106.87,486.81 L107.55,486.85 L108.23,486.90 L108.91,486.94 L109.59,486.99 L110.27,487.04 L110.95,487.09 L111.63,487.14 L112.30,487.19 L112.98,487.25 L113.66,487.30 L114.34,487.36 L115.02,487.42 L115.70,487.48 L116.38,487.55 L117.06,487.61 L117.73,487.67 L118.41,487.74 L119.09,487.81 L119.77,487.88 L120.45,487.95 L121.13,488.02 L121.81,488.09 L122.49,488.16 L123.16,488.23 L123.84,488.31 L124.52,488.38 L125.20,488.46 L125.88,488.54 L126.56,488.62 L127.24,488.69 L127.92,488.77 L128.59,488.85 L129.27,488.93 L129.95,489.01 L130.63,489.09 L131.31,489.17 L131.99,489.25 L132.67,489.33 L133.35,489.42 L134.02,489.50 L134.70,489.58 L135.38,489.66 L136.06,489.74 L136.74,489.82 L137.42,489.90 L138.10,489.98 L138.78,490.06 L139.45,490.14 L140.13,490.22 L140.81,490.30 L141.49,490.38 L142.17,490.46 L142.85,490.54 L143.53,490.61 L144.21,490.69 L144.88,490.76 L145.56,490.84 L146.24,490.91 L146.92,490.98 L147.60,491.06 L148.28,491.13 L148.96,491.20 L149.64,491.26 L150.31,491.33 L150.99,491.40 L151.67,491.46 L152.35,491.52 L153.03,491.59 L153.71,491.65 L154.39,491.71 L155.07,491.76 L155.74,491.82 L156.42,491.87 L157.10,491.93 L157.78,491.98 L158.46,492.03 L159.14,492.07 L159.82,492.12 L160.50,492.16 L161.17,492.21 L161.85,492.25 L162.53,492.29 L163.21,492.32 L163.89,492.36 L164.57,492.39 L165.25,492.42 L165.93,492.45 L166.60,492.48 L167.28,492.51 L167.96,492.53 L168.64,492.55 L169.32,492.57 L170.00,492.59 L170.68,492.60 L171.36,492.61 L172.03,492.62 L172.71,492.63 L173.39,492.64 L174.07,492.64 L174.75,492.65 L175.43,492.65 L176.11,492.65 L176.79,492.64 L177.46,492.64 L178.14,492.63 L178.82,492.62 L179.50,492.60 L180.18,492.59 L180.86,492.57 L181.54,492.55 L182.22,492.53 L182.89,492.51 L183.57,492.49 L184.25,492.46 L184.93,492.43 L185.61,492.40 L186.29,492.37 L186.97,492.33 L187.65,492.30 L188.32,492.26 L189.00,492.22 L189.68,492.18 L190.36,492.13 L191.04,492.09 L191.72,492.04 L192.40,491.99 L193.08,491.94 L193.75,491.89 L194.43,491.83 L195.11,491.78 L195.79,491.72 L196.47,491.66 L197.15,491.60 L197.83,491.54 L198.51,491.48 L199.18,491.41 L199.86,491.35 L200.54,491.28 L201.22,491.21 L201.90,491.14 L202.58,491.07 L203.26,491.00 L203.94,490.93 L204.61,490.86 L205.29,490.78 L205.97,490.71 L206.65,490.63 L207.33,490.56 L208.01,490.48 L208.69,490.40 L209.37,490.32 L210.04,490.24 L210.72,490.16 L211.40,490.08 L212.08,490.00 L212.76,489.92 L213.44,489.84 L214.12,489.76 L214.80,489.68 L215.47,489.60 L216.15,489.52 L216.83,489.44 L217.51,489.36 L218.19,489.27 L218.87,489.19 L219.55,489.11 L220.23,489.03 L220.90,488.95 L221.58,488.87 L222.26,488.79 L222.94,488.71 L223.62,488.64 L224.30,488.56 L224.98,488.48 L225.66,488.40 L226.33,488.33 L227.01,488.25 L227.69,488.18 L228.37,488.11 L229.05,488.03" stroke="#0000ff" stroke-width="1.6" stroke-dasharray="14.4 4.65 2.5 4.75"/>
<path d="M229.05,488.03 L229.50,487.99 L229.96,487.94 L230.41,487.89 L230.87,487.85 L231.32,487.80 L231.78,487.76 L232.23,487.71 L232.69,487.67 L233.14,487.62 L233.60,487.58 L234.05,487.54 L234.51,487.50 L234.96,487.45 L235.42,487.41 L235.87,487.37 L236.33,487.33 L236.78,487.30 L237.24,487.26 L237.69,487.22 L238.15,487.18 L238.60,487.15 L239.06,487.11 L239.51,487.08 L239.97,487.05 L240.42,487.01 L240.88,486.98 L241.33,486.95 L241.79,486.92 L242.24,486.89 L242.70,486.86 L243.15,486.83 L243.61,486.80 L244.06,486.78 L244.52,486.75 L244.97,486.73 L245.43,486.70 L245.88,486.68 L246.34,486.66 L246.79,486.64 L247.25,486.62 L247.70,486.60 L248.16,486.58 L248.61,486.56 L249.07,486.54 L249.52,486.53 L249.98,486.51 L250.43,486.50 L250.89,486.48 L251.34,486.47 L251.80,486.46 L252.25,486.45 L252.71,486.44 L253.16,486.43 L253.62,486.43 L254.07,486.42 L254.53,486.41 L254.98,486.41 L255.44,486.40 L255.89,486.40 L256.35,486.40" stroke="#0000ff" stroke-width="1.6" stroke-dasharray="14.4 4.65 2.5 4.75"/>
<path d="M256.76,486.40 L257.44,486.40 L258.12,486.40 L258.80,486.41 L259.48,486.41 L260.16,486.42 L260.84,486.43 L261.52,486.44 L262.20,486.46 L262.88,486.48 L263.56,486.49 L264.24,486.52 L264.92,486.54 L265.60,486.56 L266.28,486.59 L266.96,486.62 L267.64,486.65 L268.32,486.69 L269.00,486.72 L269.68,486.76 L270.36,486.80 L271.04,486.84 L271.72,486.88 L272.40,486.92 L273.08,486.97 L273.76,487.02 L274.44,487.07 L275.12,487.12 L275.80,487.17 L276.48,487.23 L277.16,487.28 L277.84,487.34 L278.52,487.40 L279.20,487.46 L279.88,487.52 L280.56,487.59 L281.24,487.65 L281.92,487.72 L282.60,487.78 L283.28,487.85 L283.96,487.92 L284.64,487.99 L285.32,488.06 L286.00,488.14 L286.68,488.21 L287.37,488.28 L288.05,488.36 L288.73,488.44 L289.41,488.51 L290.09,488.59 L290.77,488.67 L291.45,488.75 L292.13,488.83 L292.81,488.91 L293.49,488.99 L294.17,489.07 L294.85,489.15 L295.53,489.23 L296.21,489.31 L296.89,489.39 L297.57,489.47 L298.25,489.55 L298.93,489.64 L299.61,489.72 L300.29,489.80 L300.97,489.88 L301.65,489.96 L302.33,490.04 L303.01,490.12 L303.69,490.20 L304.37,490.28 L305.05,490.36 L305.73,490.44 L306.41,490.52 L307.09,490.59 L307.77,490.67 L308.45,490.74 L309.13,490.82 L309.81,490.89 L310.49,490.97 L311.17,491.04 L311.85,491.11 L312.53,491.18 L313.21,491.25 L313.89,491.31 L314.57,491.38 L315.25,491.44 L315.93,491.51 L316.61,491.57 L317.29,491.63 L317.97,491.69 L318.66,491.75 L319.34,491.81 L320.02,491.86 L320.70,491.91 L321.38,491.97 L322.06,492.02 L322.74,492.06 L323.42,492.11 L324.10,492.16 L324.78,492.20 L325.46,492.24 L326.14,492.28 L326.82,492.32 L327.50,492.35 L328.18,492.39 L328.86,492.42 L329.54,492.45 L330.22,492.47 L330.90,492.50 L331.58,492.52 L332.26,492.55 L332.94,492.57 L333.62,492.58 L334.30,492.60 L334.98,492.61 L335.66,492.62 L336.34,492.63 L337.02,492.64 L337.70,492.64 L338.38,492.65 L339.06,492.65 L339.74,492.65 L340.42,492.64 L341.10,492.64 L341.78,492.63 L342.46,492.62 L343.14,492.61 L343.82,492.59 L344.50,492.58 L345.18,492.56 L345.86,492.54 L346.54,492.52 L347.22,492.49 L347.90,492.46 L348.58,492.44 L349.26,492.40 L349.95,492.37 L350.63,492.34 L351.31,492.30 L351.99,492.26 L352.67,492.22 L353.35,492.18 L354.03,492.14 L354.71,492.09 L355.39,492.04 L356.07,492.00 L356.75,491.94 L357.43,491.89 L358.11,491.84 L358.79,491.78 L359.47,491.73 L360.15,491.67 L360.83,491.61 L361.51,491.55 L362.19,491.48 L362.87,491.42 L363.55,491.35 L364.23,491.29 L364.91,491.22 L365.59,491.15 L366.27,491.08 L366.95,491.01 L367.63,490.94 L368.31,490.86 L368.99,490.79 L369.67,490.71 L370.35,490.64 L371.03,490.56 L371.71,490.48 L372.39,490.41 L373.07,490.33 L373.75,490.25 L374.43,490.17 L375.11,490.09 L375.79,490.01 L376.47,489.93 L377.15,489.85 L377.83,489.77 L378.51,489.68 L379.19,489.60 L379.87,489.52 L380.55,489.44 L381.24,489.36 L381.92,489.28 L382.60,489.20 L383.28,489.11 L383.96,489.03 L384.64,488.95 L385.32,488.87 L386.00,488.79 L386.68,488.72 L387.36,488.64 L388.04,488.56 L388.72,488.48 L389.40,488.40 L390.08,488.33 L390.76,488.25 L391.44,488.18 L392.12,488.11 L392.80,488.03" stroke="#0000ff" stroke-width="1.6" stroke-dasharray="14.4 4.65 2.5 4.75"/>
<path d="M392.80,488.03 L393.27,487.99 L393.73,487.94 L394.20,487.89 L394.67,487.84 L395.13,487.79 L395.60,487.75 L396.07,487.70 L396.53,487.66 L397.00,487.61 L397.47,487.57 L397.93,487.53 L398.40,487.48 L398.87,487.44 L399.33,487.40 L399.80,487.36 L400.27,487.32 L400.73,487.28 L401.20,487.24 L401.67,487.20 L402.13,487.17 L402.60,487.13 L403.07,487.09 L403.53,487.06 L404.00,487.03 L404.47,486.99 L404.93,486.96 L405.40,486.93 L405.87,486.90 L406.33,486.87 L406.80,486.84 L407.27,486.81 L407.73,486.78 L408.20,486.76 L408.67,486.73 L409.13,486.71 L409.60,486.68 L410.07,486.66 L410.53,486.64 L411.00,486.62 L411.47,486.60 L411.93,486.58 L412.40,486.56 L412.87,486.54 L413.33,486.53 L413.80,486.51 L414.27,486.50 L414.73,486.48 L415.20,486.47 L415.67,486.46 L416.13,486.45 L416.60,486.44 L417.07,486.43 L417.53,486.42 L418.00,486.42 L418.47,486.41 L418.93,486.41 L419.40,486.40 L419.87,486.40 L420.33,486.40 L420.80,486.40" stroke="#0000ff" stroke-width="1.6" stroke-dasharray="14.4 4.65 2.5 4.75"/>

</g>
<path d="M93.30,534.2v-7.6M93.30,385.4v7.6M134.24,534.2v-3.9M134.24,385.4v3.9M175.18,534.2v-7.6M175.18,385.4v7.6M216.11,534.2v-3.9M216.11,385.4v3.9M257.05,534.2v-7.6M257.05,385.4v7.6M297.99,534.2v-3.9M297.99,385.4v3.9M338.93,534.2v-7.6M338.93,385.4v7.6M379.86,534.2v-3.9M379.86,385.4v3.9M420.80,534.2v-7.6M420.80,385.4v7.6M93.3,521.80h7.6M420.8,521.80h-7.6M93.3,497.00h7.6M420.8,497.00h-7.6M93.3,472.20h7.6M420.8,472.20h-7.6M93.3,447.40h7.6M420.8,447.40h-7.6M93.3,422.60h7.6M420.8,422.60h-7.6M93.3,397.80h7.6M420.8,397.80h-7.6" stroke="#000" stroke-width="1.4" fill="none"/>
<rect x="93.3" y="385.4" width="327.5" height="148.80000000000007" fill="none" stroke="#000" stroke-width="1.7"/>
<text transform="translate(83.6,527.60) scale(1.055,1)" text-anchor="end" class="s">0.2</text>
<text transform="translate(83.6,502.80) scale(1.055,1)" text-anchor="end" class="s">0.4</text>
<text transform="translate(83.6,478.00) scale(1.055,1)" text-anchor="end" class="s">0.6</text>
<text transform="translate(83.6,453.20) scale(1.055,1)" text-anchor="end" class="s">0.8</text>
<text transform="translate(83.6,428.40) scale(1.055,1)" text-anchor="end" class="s">1</text>
<text transform="translate(83.6,403.60) scale(1.055,1)" text-anchor="end" class="s">1.2</text>
<text transform="translate(40.6,459.60) rotate(-90)" text-anchor="middle" class="i">Flux</text>
<text x="384.75" y="517.09" text-anchor="middle" class="r">c</text>
<text transform="translate(93.20,556.5) scale(1.055,1)" text-anchor="middle" class="s">0</text>
<text transform="translate(175.08,556.5) scale(1.055,1)" text-anchor="middle" class="s">0.5</text>
<text transform="translate(256.95,556.5) scale(1.055,1)" text-anchor="middle" class="s">1</text>
<text transform="translate(338.82,556.5) scale(1.055,1)" text-anchor="middle" class="s">1.5</text>
<text transform="translate(420.70,556.5) scale(1.055,1)" text-anchor="middle" class="s">2</text>
<text x="257.1" y="582" text-anchor="middle" class="i">Pulse Phase</text>
</svg>
</body></html>
